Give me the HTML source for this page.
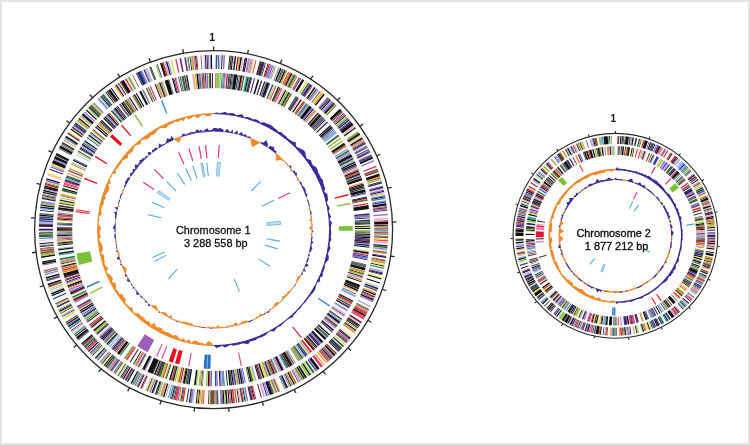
<!DOCTYPE html><html><head><meta charset="utf-8"><style>html,body{margin:0;padding:0;background:#fff}svg{display:block}text{font-family:"Liberation Sans",Arial,sans-serif;fill:#111}</style></head><body>
<svg width="750" height="445" viewBox="0 0 750 445">
<rect x="1" y="1" width="748" height="443" fill="#fff" stroke="#e4e4e4" stroke-width="2"/>
<g transform="translate(213.6 229.6) scale(1)">
<circle r="179" fill="none" stroke="#2a2a2a" stroke-width="1.3"/>
<path d="M0 -179L0 -183M33.99 -175.74L34.75 -179.67M66.75 -166.09L68.24 -169.8M97.07 -150.39L99.24 -153.75M123.87 -129.22L126.63 -132.11M146.15 -103.35L149.42 -105.66M163.12 -73.71L166.76 -75.36M174.15 -41.39L178.04 -42.32M178.84 -7.57L182.84 -7.74M177.02 26.53L180.98 27.12M168.76 59.66L172.53 61M154.36 90.63L157.81 92.65M134.34 118.29L137.35 120.94M109.43 141.65L111.88 144.82M80.54 159.86L82.34 163.43M48.72 172.24L49.81 176.09M15.13 178.36L15.46 182.35M-19.02 177.99L-19.45 181.96M-52.47 171.14L-53.65 174.96M-84.02 158.06L-85.9 161.59M-112.5 139.23L-115.02 142.34M-136.9 115.33L-139.96 117.9M-156.31 87.23L-159.8 89.18M-170.03 55.96L-173.83 57.21M-177.56 22.65L-181.53 23.16M-178.63 -11.48L-182.62 -11.73M-173.2 -45.19L-177.07 -46.2M-161.47 -77.26L-165.08 -78.99M-143.86 -106.52L-147.07 -108.9M-121.01 -131.9L-123.72 -134.84M-93.76 -152.48L-95.86 -155.89M-63.1 -167.51L-64.51 -171.25M-30.14 -176.44L-30.82 -180.39" stroke="#2a2a2a" stroke-width="1.3" fill="none"/>
<circle r="167.7" fill="none" stroke="#3048b0" stroke-width="14" pathLength="360" stroke-dasharray="0 0.73 0.54 17.91 0.25 30.76 0.47 14.2 0.48 15.32 0.45 52.71 0.21 9.66 0.54 11.03 0.32 6.42 0.4 18.54 0.23 19 0.28 14.35 0.28 0.52 0.29 6.04 0.21 14.36 0.31 6.63 0.31 2.67 0.45 20.07 0.31 4.47 0.28 0.65 0.5 0.75 0.46 27.09 0.21 0.13 0.28 18.38 0.47 13.96 0.48 24.61" transform="rotate(-90)"/>
<circle r="167.7" fill="none" stroke="#111111" stroke-width="14" pathLength="360" stroke-dasharray="0 1.6 0.22 0.86 0.32 2.19 0.29 0.17 0.38 0.13 0.34 0.47 0.5 1.38 0.5 1.43 0.36 4.58 0.3 0.81 0.21 1.04 0.29 4.02 0.5 1.06 0.54 0.84 0.23 0.76 0.48 3.69 0.41 0 0.39 1.53 0.28 2.28 0.41 1.75 0.23 1.24 0.52 1.6 0.27 0.39 0.39 1.19 0.46 0.11 0.24 0.27 0.26 1.51 0.54 0 0.39 0.95 0.23 0.72 0.33 1.41 0.41 0.93 0.3 0 0.45 0 0.33 0.98 0.36 1.84 0.49 0 0.22 0.96 0.55 1.2 0.26 3.51 0.26 1.5 0.4 0 0.23 5.25 0.41 0 0.35 0 0.25 1.66 0.27 2.97 0.37 1.44 0.4 1.93 0.28 0 0.52 5.16 0.32 0 0.26 0 0.33 10.83 0.39 5.18 0.39 1.25 0.42 1 0.42 3.64 0.54 0.49 0.29 0.55 0.54 3.32 0.22 1.07 0.21 0.43 0.35 0 0.22 3.16 0.41 0.6 0.35 3.8 0.31 3.27 0.38 0.68 0.43 2.45 0.21 0 0.47 1.1 0.45 4.65 0.36 0 0.54 1.46 0.3 0.88 0.48 1.05 0.27 0 0.36 0.16 0.5 3.27 0.48 0.8 0.33 0.88 0.51 5.08 0.53 0 0.39 5.03 0.38 0.82 0.32 1.64 0.32 1.72 0.32 1.81 0.47 1.3 0.54 0.49 0.4 4.73 0.25 3.07 0.32 0.36 0.35 7.88 0.34 2.29 0.47 2.34 0.45 0.78 0.45 3.58 0.32 0.64 0.27 2.26 0.46 0.94 0.4 8.28 0.35 0.35 0.28 2.48 0.25 0.63 0.44 1 0.26 0.86 0.21 0.41 0.43 0.79 0.27 1.78 0.49 1.88 0.49 0 0.25 4.05 0.49 3.45 0.23 0.95 0.24 0.47 0.4 0.13 0.21 1.15 0.28 0.71 0.28 2.63 0.4 0.14 0.29 0 0.21 2.7 0.29 0 0.26 1.24 0.25 0.24 0.51 4.32 0.52 0.11 0.41 1.13 0.52 4.07 0.31 3.07 0.43 0.84 0.42 4.2 0.46 1.25 0.29 0.66 0.52 4.46 0.4 0.17 0.53 0.43 0.52 0 0.47 0.58 0.28 1.19 0.43 5.15 0.48 0 0.45 0 0.27 0.5 0.5 0 0.46 0.35 0.38 0 0.32 1.57 0.25 0.12 0.32 0 0.53 0.98 0.35 1.93 0.46 2.43 0.44 0.48 0.32 0.83 0.34 3.65 0.39 0 0.4 1.25 0.42 1.22 0.33 3.72 0.22 0.67 0.42 2.2 0.41 0.13 0.43 0 0.46 0.25 0.36 1.55 0.45 0.62 0.26 0.7 0.34 0 0.41 0 0.39 9.76 0.28 3.11 0.53 0 0.23 1.21 0.5 6.84 0.22 0.39 0.27 1.57 0.31 4.76 0.52 0.46" transform="rotate(-90)"/>
<circle r="167.7" fill="none" stroke="#80b0f0" stroke-width="14" pathLength="360" stroke-dasharray="0 1.98 0.33 45.35 0.31 10.9 0.46 1.21 0.32 35.66 0.38 61.6 0.37 27.8 0.32 18.97 0.53 42.38 0.21 0.43 0.29 26.89 0.5 41.08 0.51 25.88 0.49 5.92 0.28 8.66" transform="rotate(-90)"/>
<circle r="167.7" fill="none" stroke="#8a70d0" stroke-width="14" pathLength="360" stroke-dasharray="0 3.28 0.51 7.65 0.3 0.96 0.34 5.81 0.34 0.36 0.52 0.18 0.27 16.09 0.35 3.65 0.53 1.58 0.38 0 0.28 23.09 0.47 8.41 0.39 0.97 0.45 1.38 0.44 1.35 0.34 4.1 0.49 14.67 0.32 13.87 0.48 15.03 0.25 6.75 0.5 24.33 0.4 6.68 0.5 8.14 0.54 9.41 0.4 4.01 0.39 9.15 0.51 15.39 0.28 3.09 0.43 3.68 0.51 28.47 0.24 1.19 0.4 0.78 0.5 12.53 0.22 0.25 0.37 8.97 0.52 6.68 0.54 6.93 0.5 16.65 0.21 1.12 0.45 4.05 0.3 9.79 0.33 8.45 0.39 17.54 0.5 4.29 0.4 1.49" transform="rotate(-90)"/>
<circle r="167.7" fill="none" stroke="#b0a0e0" stroke-width="14" pathLength="360" stroke-dasharray="0 6.63 0.35 5.22 0.5 9.06 0.53 19.9 0.52 20.09 0.37 14.47 0.37 25.64 0.45 5.06 0.28 6.49 0.45 33.74 0.51 3.25 0.49 40.52 0.44 0.45 0.34 2.34 0.25 17.51 0.39 23.56 0.44 31.39 0.52 10.72 0.43 7.65 0.48 14.4 0.54 12.48 0.42 17 0.44 0.14 0.43 5.89 0.37 16.06" transform="rotate(-90)"/>
<circle r="167.7" fill="none" stroke="#3a1a2a" stroke-width="14" pathLength="360" stroke-dasharray="0 7.9 0.37 7.07 0.39 0.3 0.42 0 0.39 18.32 0.24 34.97 0.35 17.56 0.48 13.19 0.34 19.64 0.5 1.09 0.42 1.18 0.37 8.57 0.38 29.5 0.32 10.42 0.4 13.64 0.33 16.7 0.22 4.26 0.42 0.29 0.51 4.47 0.33 11.01 0.23 4.68 0.38 4.42 0.51 13.44 0.29 19.75 0.35 0 0.46 1.57 0.45 21.34 0.25 7.85 0.46 5.64 0.47 11.93 0.37 37.93" transform="rotate(-90)"/>
<circle r="167.7" fill="none" stroke="#f08a2a" stroke-width="14" pathLength="360" stroke-dasharray="0 8.43 0.42 15.65 0.41 0.65 0.46 12.43 0.39 18.28 0.25 1.95 0.5 4.51 0.24 7.66 0.39 25.07 0.43 13.08 0.48 5.95 0.4 7.86 0.54 13.12 0.37 0.66 0.35 8.74 0.33 1.88 0.38 17.5 0.37 13.52 0.55 0.98 0.36 11.47 0.5 0.68 0.26 45.74 0.34 6.62 0.21 4.37 0.29 44.74 0.31 2.55 0.34 4.91 0.39 6.42 0.34 9.35 0.48 24.86 0.21 1.73 0.51 6.81" transform="rotate(-90)"/>
<circle r="167.7" fill="none" stroke="#f2a0c0" stroke-width="14" pathLength="360" stroke-dasharray="0 9.49 0.44 43.43 0.47 22.37 0.38 9.52 0.41 7.66 0.51 27.72 0.51 39.83 0.21 8.11 0.44 33.32 0.25 5.56 0.29 31.67 0.31 22 0.23 1.15 0.25 21.6 0.28 33.64 0.22 6.86 0.27 14.52 0.22 12.52 0.28 3.03" transform="rotate(-90)"/>
<circle r="167.7" fill="none" stroke="#202060" stroke-width="14" pathLength="360" stroke-dasharray="0 10.28 0.5 6.43 0.29 34.23 0.41 23.59 0.47 18.97 0.46 13.94 0.51 23.23 0.51 26.25 0.28 27.4 0.45 4.83 0.27 18.72 0.34 7.22 0.32 8.47 0.35 2.23 0.28 4.07 0.26 42.32 0.49 1.71 0.43 0.61 0.36 8.6 0.33 16.34 0.29 26.54 0.33 0.12 0.42 0 0.44 1.39 0.36 20.47 0.4 2.46" transform="rotate(-90)"/>
<circle r="167.7" fill="none" stroke="#e04080" stroke-width="14" pathLength="360" stroke-dasharray="0 11.74 0.31 15.88 0.31 0.98 0.39 18.86 0.46 19.56 0.54 14.02 0.35 3.41 0.32 2.79 0.23 3.3 0.49 19.16 0.45 4.64 0.51 1.62 0.44 8.36 0.47 8.39 0.37 0.39 0.46 2.04 0.37 0 0.51 20.97 0.22 2.49 0.48 16.91 0.34 8.47 0.52 11.63 0.32 21.68 0.36 0 0.26 7.33 0.22 28.98 0.26 83.7 0.48 12.22" transform="rotate(-90)"/>
<circle r="167.7" fill="none" stroke="#e8d840" stroke-width="14" pathLength="360" stroke-dasharray="0 13.04 0.38 18.61 0.52 5.41 0.5 5.73 0.27 33.57 0.32 14.67 0.45 0.49 0.22 7.28 0.36 0.46 0.36 3.17 0.4 21.49 0.21 11.32 0.34 19.56 0.44 31.43 0.52 10.05 0.43 11.85 0.31 5.05 0.25 19.67 0.26 0 0.25 10.27 0.47 38.04 0.44 2.97 0.5 13.09 0.27 10.35 0.23 29.44 0.52 13.76" transform="rotate(-90)"/>
<circle r="167.7" fill="none" stroke="#e02828" stroke-width="14" pathLength="360" stroke-dasharray="0 13.93 0.29 4.15 0.47 7.17 0.31 32.3 0.24 11.04 0.45 20.51 0.48 8.87 0.33 18.37 0.43 0.57 0.41 0.44 0.27 9.3 0.27 27.22 0.5 8.34 0.27 6 0.53 0.79 0.26 15.4 0.42 2.18 0.48 13.61 0.31 9.69 0.22 11.31 0.22 56.43 0.47 44.31 0.41 12.96 0.47 10.83 0.35 5.4" transform="rotate(-90)"/>
<circle r="167.7" fill="none" stroke="#90c840" stroke-width="14" pathLength="360" stroke-dasharray="0 20.63 0.37 5.94 0.28 22.36 0.47 5.6 0.46 16.89 0.46 27.09 0.23 23.79 0.36 6.16 0.25 14.34 0.38 0.62 0.36 0 0.31 1.66 0.21 8.36 0.26 18.1 0.33 4.92 0.24 2.95 0.38 29.77 0.29 26.56 0.47 19.33 0.45 6.71 0.31 9.74 0.49 6.69 0.34 22.54 0.46 1.28 0.37 3.28 0.46 16.59 0.39 9.21 0.37 11.52 0.3 7.32" transform="rotate(-90)"/>
<circle r="167.7" fill="none" stroke="#2a6a2a" stroke-width="14" pathLength="360" stroke-dasharray="0 23.06 0.46 3.93 0.49 26.07 0.21 15.38 0.32 25.72 0.47 16.28 0.34 4.33 0.25 12.55 0.5 2.24 0.3 11.76 0.38 4.21 0.29 9.34 0.26 19.91 0.23 11.1 0.32 8.16 0.39 18.12 0.54 9.57 0.53 35.6 0.25 0.7 0.23 2.67 0.34 0 0.55 46.72 0.51 4.53 0.39 39.52" transform="rotate(-90)"/>
<circle r="167.7" fill="none" stroke="#606060" stroke-width="14" pathLength="360" stroke-dasharray="0 23.52 0.32 3.38 0.23 2.17 0.49 5.87 0.48 4.95 0.39 14.31 0.3 4.8 0.36 21.83 0.41 7.56 0.38 0.62 0.49 3.43 0.23 13.7 0.52 14.73 0.27 12.63 0.39 16.98 0.27 20.82 0.34 1.18 0.25 0 0.44 8.47 0.24 5.65 0.4 3.73 0.26 4.38 0.49 4.42 0.22 4.3 0.42 0.95 0.46 4.98 0.35 11.87 0.32 6.67 0.43 14.63 0.5 2.34 0.24 2.36 0.26 16.61 0.5 5.05 0.25 0.72 0.27 17.08 0.28 0.17 0.53 38.46 0.52 16.88 0.28 4.04" transform="rotate(-90)"/>
<circle r="167.7" fill="none" stroke="#a0a040" stroke-width="14" pathLength="360" stroke-dasharray="0 28.24 0.48 60.03 0.43 0.38 0.36 10.86 0.53 51.59 0.48 17.21 0.26 49.04 0.32 3.98 0.24 8.93 0.23 28.03 0.41 18.73 0.37 78.86" transform="rotate(-90)"/>
<circle r="167.7" fill="none" stroke="#30a0a0" stroke-width="14" pathLength="360" stroke-dasharray="0 33.11 0.32 45.93 0.51 10.38 0.44 11.94 0.44 66.12 0.27 24.81 0.47 12.54 0.52 24.89 0.53 2.32 0.33 80.39 0.23 43.49" transform="rotate(-90)"/>
<circle r="167.7" fill="none" stroke="#4a2a7a" stroke-width="14" pathLength="360" stroke-dasharray="0 33.43 0.4 0 0.47 17.15 0.28 8.35 0.45 1.14 0.33 0.49 0.31 0.37 0.41 0.99 0.29 9.31 0.5 7.88 0.39 6.39 0.23 9.13 0.3 5.27 0.31 0.39 0.21 23.4 0.4 21.79 0.24 8.72 0.37 6.89 0.54 2.65 0.45 8.8 0.24 11.04 0.31 18.92 0.3 4.05 0.27 19.98 0.3 15.83 0.25 13.3 0.35 26.35 0.31 14.49 0.21 1.49 0.54 6.36 0.43 15.9 0.25 1.32 0.22 8.59 0.28 7.44 0.52 1.05 0.44 6.91 0.36 2" transform="rotate(-90)"/>
<circle r="167.7" fill="none" stroke="#8a4a22" stroke-width="14" pathLength="360" stroke-dasharray="0 34.3 0.3 12.56 0.5 24.97 0.24 9.36 0.22 9.65 0.26 4.97 0.37 37.39 0.49 1.53 0.31 14.14 0.34 20.33 0.37 7.16 0.25 0 0.52 0 0.43 81.08 0.54 0.15 0.51 64.25 0.41 32.1" transform="rotate(-90)"/>
<circle r="167.7" fill="none" stroke="#c0eca0" stroke-width="14" pathLength="360" stroke-dasharray="0 57.56 0.52 50.73 0.36 88.62 0.25 4.72 0.43 9.28 0.49 10.28 0.43 84.26 0.32 12.85 0.45 8.6 0.48 29.37" transform="rotate(-90)"/>
<circle r="149.05" fill="none" stroke="#e04080" stroke-width="15.3" pathLength="360" stroke-dasharray="0 0.65 0.36 22.28 0.44 1.85 0.51 44.31 0.38 57.47 0.57 27.71 0.4 61.32 0.36 13.6 0.53 12.54 0.44 6.12 0.41 13.63 0.34 8.6 0.57 11.68 0.41 4.33 0.25 3.21 0.25 40.36 0.53 3.78 0.34 19.5" transform="rotate(-90)"/>
<circle r="149.05" fill="none" stroke="#90c840" stroke-width="15.3" pathLength="360" stroke-dasharray="0 1.02 0.51 0 0.61 0.15 0.47 20.01 0.32 4.63 0.35 0 0.49 26.62 0.6 7.46 0.43 26.93 0.42 0.95 0.27 5.71 0.37 8.29 0.61 11.09 0.47 27.93 0.6 8.41 0.25 26.37 0.5 2.29 0.4 0.62 0.35 7.53 0.46 3.31 0.42 1.22 0.4 14.12 0.44 0.3 0.31 8.44 0.28 4.76 0.58 0.24 0.33 4.34 0.25 0.76 0.58 8.23 0.28 21.19 0.4 15.86 0.33 12.65 0.58 4.28 0.35 6.85 0.42 27.59 0.51 4.08 0.27 1.17 0.49 18.86" transform="rotate(-90)"/>
<circle r="149.05" fill="none" stroke="#30a0a0" stroke-width="15.3" pathLength="360" stroke-dasharray="0 2.96 0.4 3.83 0.32 4.5 0.54 0.42 0.46 23.36 0.42 32.15 0.47 82.05 0.59 23.36 0.57 45.81 0.52 12.03 0.23 23.27 0.29 1.87 0.41 2.04 0.26 4.92 0.34 35.49 0.39 55.74" transform="rotate(-90)"/>
<circle r="149.05" fill="none" stroke="#4a2a7a" stroke-width="15.3" pathLength="360" stroke-dasharray="0 3.51 0.24 11.19 0.43 2.25 0.24 14.24 0.52 12.01 0.46 0.17 0.46 0.66 0.54 18.6 0.48 17.96 0.6 1.69 0.56 0.54 0.31 5.61 0.42 0 0.47 0.58 0.58 5.6 0.38 6.09 0.52 9.56 0.34 2.01 0.42 10.27 0.48 2.27 0.35 3.43 0.4 0 0.32 5.9 0.54 9.12 0.25 8.69 0.53 7.24 0.6 10.11 0.44 8.22 0.54 29.73 0.33 5.95 0.54 10.49 0.27 2.88 0.6 25.61 0.31 10.52 0.52 10.3 0.42 3.63 0.38 10.96 0.33 12.53 0.31 4.82 0.48 5.39 0.52 21.32 0.5 7.15 0.41 1.41 0.25 1.2" transform="rotate(-90)"/>
<circle r="149.05" fill="none" stroke="#3048b0" stroke-width="15.3" pathLength="360" stroke-dasharray="0 3.89 0.32 1.67 0.38 15.67 0.57 26.86 0.51 49.99 0.5 0.12 0.25 42.34 0.61 11.34 0.25 13.5 0.39 2.45 0.61 6.76 0.49 4.79 0.36 23.79 0.61 10.38 0.28 26.66 0.42 35.59 0.25 13.97 0.35 8.96 0.32 48.16 0.27 5.4" transform="rotate(-90)"/>
<circle r="149.05" fill="none" stroke="#b0a0e0" stroke-width="15.3" pathLength="360" stroke-dasharray="0 4.21 0.37 32.64 0.48 22.35 0.45 68.31 0.5 29.75 0.48 61.8 0.51 46.95 0.3 29.49 0.31 47.03 0.4 8.66 0.42 4.59" transform="rotate(-90)"/>
<circle r="149.05" fill="none" stroke="#e02828" stroke-width="15.3" pathLength="360" stroke-dasharray="0 4.78 0.58 5.14 0.31 24.45 0.48 22.04 0.24 9.21 0.28 0.95 0.41 9.81 0.32 1.2 0.52 18.58 0.53 17.97 0.52 21.22 0.49 1.02 0.25 0 0.47 39.66 0.36 10.79 0.54 5.51 0.45 10.46 0.36 3.55 0.52 25.38 0.38 2.81 0.58 11.56 0.44 0.8 0.3 30.5 0.31 0.66 0.28 57.57 0.38 14.06" transform="rotate(-90)"/>
<circle r="149.05" fill="none" stroke="#111111" stroke-width="15.3" pathLength="360" stroke-dasharray="0 5.56 0.31 0.5 0.4 0.74 0.6 0 0.61 1.17 0.61 2.06 0.42 0.96 0.3 2.11 0.26 0 0.37 0.88 0.26 1.46 0.3 0.15 0.5 0 0.32 3.43 0.47 0.28 0.27 1.8 0.48 1 0.44 3.6 0.35 0.81 0.47 3.46 0.53 0 0.58 0.57 0.39 2.67 0.57 0 0.54 0.17 0.35 0.14 0.24 3.62 0.53 0.13 0.61 6.96 0.29 0 0.55 4.18 0.48 0 0.52 0.52 0.41 1.01 0.51 0.16 0.57 2.12 0.54 0.71 0.49 0.62 0.41 0.38 0.51 0 0.31 1.28 0.45 0.51 0.47 0.18 0.34 0.2 0.5 0 0.53 1.7 0.31 2.91 0.53 0 0.58 0 0.31 3.14 0.28 1.82 0.37 0.56 0.34 0.37 0.48 1.75 0.45 0.27 0.28 0.16 0.56 3.06 0.35 1.66 0.27 0 0.37 3.9 0.23 1 0.47 0 0.6 1.12 0.34 2.72 0.37 0.99 0.61 0 0.4 0.14 0.55 0.18 0.57 3.84 0.47 7.37 0.37 0.83 0.42 0 0.37 2.97 0.58 1.68 0.54 1.38 0.33 0 0.5 0.74 0.46 0 0.47 1.27 0.32 0.37 0.49 0.18 0.27 0.63 0.5 9.3 0.51 0 0.46 0.77 0.32 1.69 0.44 0 0.38 6.67 0.6 4.2 0.58 2.86 0.6 2.65 0.51 0.17 0.37 0.12 0.55 0.53 0.32 2.31 0.43 3.93 0.42 4.42 0.6 1.58 0.24 0 0.34 1.17 0.36 0 0.46 0.71 0.31 3.61 0.55 0.93 0.32 2.58 0.29 0.79 0.27 0.15 0.53 0.45 0.38 0 0.38 0 0.55 0 0.57 0 0.27 1.24 0.6 0 0.27 3.54 0.32 6.12 0.6 0 0.34 4.69 0.53 1.55 0.38 0.15 0.6 1.92 0.29 1.48 0.56 0.9 0.53 1.98 0.37 0.37 0.23 1.37 0.48 1.32 0.57 0.17 0.46 4.16 0.49 2.09 0.61 1 0.25 1 0.55 1.18 0.33 0.24 0.46 0.9 0.45 0 0.59 0 0.54 2.42 0.38 4.38 0.56 0.81 0.5 1.22 0.47 0.31 0.42 2.23 0.52 1.77 0.44 0.12 0.56 0.98 0.3 1.53 0.48 3.46 0.26 0 0.38 6.71 0.47 0.61 0.44 1.86 0.39 7.37 0.4 4.48 0.24 1.4 0.57 1.18 0.44 2.15 0.43 0.76 0.33 1.09 0.29 0.96 0.47 0.28 0.42 1.64 0.31 0.12 0.42 0.71 0.44 0.18 0.36 1.01 0.56 1.6 0.29 0.98 0.57 0.75 0.27 1.03 0.27 0.26 0.61 4.55 0.26 0.2 0.45 0.36 0.45 0.95 0.34 0 0.48 5.47 0.4 1.31 0.49 1.66 0.59 0 0.29 0 0.56 1.38 0.48 1.89 0.25 2.71 0.47 3.3 0.6 3.92 0.3 0.25 0.32 0.34 0.33 0.21" transform="rotate(-90)"/>
<circle r="149.05" fill="none" stroke="#606060" stroke-width="15.3" pathLength="360" stroke-dasharray="0 6.78 0.42 2.23 0.33 26.47 0.57 13.25 0.36 0.2 0.24 2.06 0.47 12.74 0.36 24.54 0.29 11.77 0.54 0 0.45 10.09 0.33 6.42 0.34 4.09 0.24 23.34 0.51 6.53 0.52 1.83 0.24 7.99 0.37 35.64 0.28 11.55 0.3 5.94 0.28 18.95 0.24 15.26 0.35 44.16 0.48 1.38 0.3 18.14 0.48 2.18 0.44 9.81 0.31 9.84 0.38 3.8 0.49 1.66 0.24 5.71 0.45 4.02" transform="rotate(-90)"/>
<circle r="149.05" fill="none" stroke="#202060" stroke-width="15.3" pathLength="360" stroke-dasharray="0 8.86 0.37 11.61 0.29 52.2 0.51 2.35 0.39 19 0.52 22.79 0.36 39.31 0.48 60.94 0.47 7.7 0.33 28.65 0.32 11.07 0.27 11.76 0.55 20.16 0.49 11.64 0.28 31.43 0.29 14.59" transform="rotate(-90)"/>
<circle r="149.05" fill="none" stroke="#2a6a2a" stroke-width="15.3" pathLength="360" stroke-dasharray="0 10.98 0.49 13.27 0.28 3.99 0.36 2.21 0.52 20.5 0.33 6.56 0.56 18.96 0.39 5.16 0.28 1.97 0.54 3.02 0.26 37.04 0.59 4.56 0.46 11.78 0.47 19.75 0.61 24.07 0.43 9.49 0.54 15.97 0.44 27.3 0.5 14.13 0.6 12.89 0.37 6.85 0.52 4.3 0.6 4.89 0.57 28.67 0.42 5.8 0.47 22.42 0.52 0 0.32 11.06" transform="rotate(-90)"/>
<circle r="149.05" fill="none" stroke="#3a1a2a" stroke-width="15.3" pathLength="360" stroke-dasharray="0 13.43 0.5 4.92 0.48 22.33 0.57 18.85 0.25 16.76 0.48 15.58 0.58 24.75 0.35 25.68 0.25 5.04 0.58 5.54 0.55 5.33 0.47 31.44 0.56 5.42 0.6 10.7 0.43 11.31 0.33 24 0.35 2.92 0.29 26.86 0.56 10.34 0.36 34.7 0.48 9.42 0.27 0.65 0.27 19.22 0.25 5" transform="rotate(-90)"/>
<circle r="149.05" fill="none" stroke="#80b0f0" stroke-width="15.3" pathLength="360" stroke-dasharray="0 19.33 0.24 16.37 0.29 14.63 0.49 0 0.57 6.75 0.61 4.41 0.45 16.58 0.27 33.66 0.59 6.03 0.37 3.96 0.42 15.93 0.54 1.86 0.5 19.32 0.53 72.73 0.34 29.41 0.34 21.27 0.6 12.8 0.5 4.94 0.43 11.65 0.51 18.77 0.24 20.79" transform="rotate(-90)"/>
<circle r="149.05" fill="none" stroke="#e8d840" stroke-width="15.3" pathLength="360" stroke-dasharray="0 22.49 0.29 66.16 0.37 53.19 0.55 17.25 0.61 3.79 0.55 6.02 0.31 21.54 0.61 14.21 0.25 40.93 0.56 7.11 0.36 19.42 0.33 3.06 0.61 71.94 0.49 7" transform="rotate(-90)"/>
<circle r="149.05" fill="none" stroke="#f08a2a" stroke-width="15.3" pathLength="360" stroke-dasharray="0 25.29 0.28 14.83 0.59 31.39 0.49 33.01 0.39 6.87 0.46 10.07 0.28 60.81 0.37 6.24 0.34 7.36 0.37 54.49 0.47 0 0.28 0.44 0.26 2.35 0.53 8.38 0.54 6.12 0.44 8.85 0.61 7.67 0.45 1.31 0.57 15.87 0.56 2.63 0.5 25.71 0.5 14.17 0.38 2.89 0.32 3.27" transform="rotate(-90)"/>
<circle r="149.05" fill="none" stroke="#f2a0c0" stroke-width="15.3" pathLength="360" stroke-dasharray="0 26.6 0.5 5.86 0.44 33.1 0.56 40.84 0.61 13.91 0.31 4.66 0.27 25.31 0.36 55.69 0.41 3.8 0.24 13.34 0.43 3.56 0.33 15.65 0.58 0.25 0.48 2.57 0.24 101.14 0.49 7.49" transform="rotate(-90)"/>
<circle r="149.05" fill="none" stroke="#8a4a22" stroke-width="15.3" pathLength="360" stroke-dasharray="0 29.52 0.48 4.84 0.42 21.88 0.48 10.55 0.3 80.99 0.37 7.63 0.42 3.97 0.41 33 0.57 23.01 0.54 12.26 0.56 32.37 0.31 4.37 0.57 4.4 0.39 0.75 0.42 42.14 0.38 7.37 0.53 29.77 0.44 3.58" transform="rotate(-90)"/>
<circle r="149.05" fill="none" stroke="#8a70d0" stroke-width="15.3" pathLength="360" stroke-dasharray="0 38.8 0.57 0.6 0.26 20.27 0.38 1.45 0.52 13.74 0.3 7.94 0.59 13.54 0.34 15.94 0.25 7.43 0.6 3.31 0.34 9.32 0.55 9.26 0.43 1.61 0.31 5.74 0.41 13.27 0.48 3.66 0.35 3.86 0.35 0.17 0.5 0.98 0.54 26.81 0.38 17.92 0.55 1.88 0.3 8.93 0.24 0.48 0.41 5.22 0.47 7.25 0.5 7.17 0.28 13.75 0.43 3.87 0.49 40.43 0.53 8.97 0.24 6.32 0.33 24.21 0.56 2.12" transform="rotate(-90)"/>
<circle r="149.05" fill="none" stroke="#c0eca0" stroke-width="15.3" pathLength="360" stroke-dasharray="0 45.71 0.46 139.67 0.32 171.72 0.37 1.75" transform="rotate(-90)"/>
<circle r="149.05" fill="none" stroke="#a0a040" stroke-width="15.3" pathLength="360" stroke-dasharray="0 53.95 0.52 50.84 0.59 2.77 0.54 36.55 0.55 11.58 0.46 1.2 0.6 10.64 0.5 12.6 0.38 25.66 0.41 8.28 0.24 10.23 0.24 83.45 0.45 11.71 0.28 1.25 0.54 1.52 0.32 31.17" transform="rotate(-90)"/>
<path d="M-52.71 -128.84A139.2 139.2 0 0 1 -51.36 -129.38L-46.23 -116.46A125.3 125.3 0 0 0 -47.44 -115.97Z" fill="#3a8ad4"/>
<path d="M-79.44 -114.3A139.2 139.2 0 0 1 -78.24 -115.13L-70.43 -103.63A125.3 125.3 0 0 0 -71.51 -102.89Z" fill="#80c040"/>
<path d="M-92.6 -103.93A139.2 139.2 0 0 1 -91.51 -104.9L-82.37 -94.42A125.3 125.3 0 0 0 -83.35 -93.55Z" fill="#e41020"/>
<path d="M-103.61 -92.96A139.2 139.2 0 0 1 -101.31 -95.47L-91.19 -85.93A125.3 125.3 0 0 0 -93.26 -83.68Z" fill="#e41020"/>
<path d="M-118.81 -72.52A139.2 139.2 0 0 1 -118.05 -73.76L-106.26 -66.4A125.3 125.3 0 0 0 -106.95 -65.28Z" fill="#e41020"/>
<path d="M-129.69 -50.56A139.2 139.2 0 0 1 -129.15 -51.92L-116.26 -46.74A125.3 125.3 0 0 0 -116.74 -45.52Z" fill="#e41020"/>
<path d="M-138.1 -17.45A139.2 139.2 0 0 1 -137.94 -18.65L-124.17 -16.79A125.3 125.3 0 0 0 -124.31 -15.7Z" fill="#ec3040"/>
<path d="M-137.86 -19.25A139.2 139.2 0 0 1 -137.69 -20.45L-123.94 -18.41A125.3 125.3 0 0 0 -124.1 -17.33Z" fill="#ec3040"/>
<path d="M-134.64 35.32A139.2 139.2 0 0 1 -137.13 23.93L-123.43 21.54A125.3 125.3 0 0 0 -121.2 31.8Z" fill="#7cc03c"/>
<path d="M-126.46 58.17A139.2 139.2 0 0 1 -127.07 56.84L-114.38 51.16A125.3 125.3 0 0 0 -113.84 52.36Z" fill="#2a6cc0"/>
<path d="M-123.36 64.49A139.2 139.2 0 0 1 -124.03 63.2L-111.64 56.89A125.3 125.3 0 0 0 -111.04 58.05Z" fill="#88cc40"/>
<path d="M-65.99 122.56A139.2 139.2 0 0 1 -76.42 116.34L-68.79 104.73A125.3 125.3 0 0 0 -59.4 110.32Z" fill="#9a60b8"/>
<path d="M-56.51 127.21A139.2 139.2 0 0 1 -57.61 126.72L-51.86 114.06A125.3 125.3 0 0 0 -50.86 114.51Z" fill="#e05070"/>
<path d="M-51.36 129.38A139.2 139.2 0 0 1 -52.48 128.93L-47.24 116.05A125.3 125.3 0 0 0 -46.23 116.46Z" fill="#e05070"/>
<path d="M-40.7 133.12A139.2 139.2 0 0 1 -44.86 131.77L-40.38 118.62A125.3 125.3 0 0 0 -36.63 119.82Z" fill="#e8101e"/>
<path d="M-34.38 134.89A139.2 139.2 0 0 1 -38.6 133.74L-34.75 120.39A125.3 125.3 0 0 0 -30.95 121.42Z" fill="#e8101e"/>
<path d="M-24.29 137.06A139.2 139.2 0 0 1 -25.49 136.85L-22.94 123.18A125.3 125.3 0 0 0 -21.87 123.38Z" fill="#e05070"/>
<path d="M-3.16 139.16A139.2 139.2 0 0 1 -9.95 138.84L-8.96 124.98A125.3 125.3 0 0 0 -2.84 125.27Z" fill="#2a70c4"/>
<path d="M-5.94 125.96L-6.52 138.25" stroke="#8cbcec" stroke-width="0.9"/>
<path d="M134.58 -35.56A139.2 139.2 0 0 1 134.95 -34.15L121.47 -30.74A125.3 125.3 0 0 0 121.14 -32.01Z" fill="#e41020"/>
<path d="M136.6 -26.8A139.2 139.2 0 0 1 136.87 -25.37L123.2 -22.83A125.3 125.3 0 0 0 122.96 -24.12Z" fill="#80c040"/>
<path d="M139.15 -3.64A139.2 139.2 0 0 1 139.19 1.21L125.3 1.09A125.3 125.3 0 0 0 125.26 -3.28Z" fill="#7cc03c"/>
<path d="M116.74 75.81A139.2 139.2 0 0 1 115.94 77.03L104.37 69.34A125.3 125.3 0 0 0 105.09 68.24Z" fill="#3a8ad4"/>
<path d="M88.35 107.56A139.2 139.2 0 0 1 87.22 108.48L78.51 97.65A125.3 125.3 0 0 0 79.53 96.82Z" fill="#e03050"/>
<path d="M28.35 136.28A139.2 139.2 0 0 1 27.16 136.53L24.44 122.89A125.3 125.3 0 0 0 25.52 122.67Z" fill="#e05070"/>
<path d="M0 -116L2.85 -117.02L5.68 -116.55L8.55 -116.77L11.53 -117.95L14.2 -116.06L17.15 -116.56L20.02 -116.28L22.55 -114.29L25.6 -114.94L28.65 -115.29L30.78 -112.15L33.87 -112.56L36.66 -111.89L39.19 -110.45L42.25 -110.47L44.77 -109.02L46.97 -106.89L50.35 -107.41L52.91 -106.07L55.6 -104.98L58.35 -103.97L60.45 -101.82L62.84 -100.2L64.67 -97.75L67.95 -97.46L69.76 -95.04L72.18 -93.48L74.08 -91.25L76.49 -89.67L78.94 -88.1L82.12 -87.27L82.41 -83.42L84.8 -81.76L87.82 -80.63L90.53 -79.15L91.93 -76.51L92.25 -73.04L93.62 -70.49L97.19 -69.54L98.13 -66.65L99.45 -64.07L102.38 -62.48L103.91 -59.99L104.62 -57.05L105.97 -54.48L107.31 -51.91L109.29 -49.62L109.64 -46.59L110.55 -43.83L111.49 -41.09L110.73 -37.77L113.66 -35.71L114.12 -32.82L114.43 -29.92L113.2 -26.67L114.62 -24.07L116.23 -21.47L114.85 -18.33L116.17 -15.65L117.41 -12.92L115.88 -9.9L118.3 -7.21L117.58 -4.3L117.09 -1.43L117.48 1.43L117.7 4.3L117.17 7.14L117.82 10.07L116.14 12.78L116.04 15.64L116.82 18.65L115.58 21.35L114.36 24.02L115.19 27.14L114.93 30.05L112.71 32.42L111.18 34.93L111.23 37.95L110.25 40.63L109.09 43.25L109.22 46.41L106.23 48.23L106.62 51.57L103.47 53.2L102.41 55.85L101.93 58.85L100.73 61.48L98.95 63.75L96.96 65.86L95.13 68.06L93.39 70.31L91.86 72.73L89.55 74.53L87.95 76.89L86.2 79.15L83.9 80.89L82.33 83.34L80.17 85.21L78.86 88.01L75.84 88.9L73.3 90.29L71.14 92.13L69.09 94.12L67.25 96.46L64.37 97.3L62.34 99.4L60.54 101.97L56.92 101.42L54.48 102.87L52.49 105.23L50.01 106.67L47.38 107.82L44.56 108.51L42.24 110.44L39.46 111.21L36.55 111.57L34.52 114.72L31.28 113.95L28.32 113.99L25.62 115L22.79 115.49L19.99 116.12L16.93 115.06L14.26 116.55L11.53 118.01L8.52 116.47L5.73 117.47L2.88 118.33L0 116A116 116 0 0 0 0 -116Z" fill="#3a2a9a"/>
<path d="M0 116L-2.74 112.47L-5.44 111.7L-8.42 115.06L-11.08 113.36L-13.83 113.06L-16.43 111.64L-19.05 110.69L-22.4 113.51L-24.41 109.6L-27.74 111.65L-29.82 108.65L-33.14 110.14L-35.22 107.51L-37.44 105.52L-40.51 105.91L-42.92 104.5L-45.16 102.78L-47.94 102.26L-50.51 101.26L-52.11 98.4L-54.74 97.54L-57.85 97.44L-58.43 93.16L-63.04 95.29L-64.05 91.87L-67.04 91.34L-68.99 89.35L-70.77 87.17L-73.23 85.85L-75.01 83.72L-78.68 83.62L-80.7 81.69L-81.01 78.1L-84.18 77.3L-86.11 75.29L-88.31 73.49L-87.73 69.47L-89.87 67.66L-90.86 65L-94.62 64.27L-95.3 61.4L-97.86 59.72L-97.49 56.28L-98.05 53.47L-101.77 52.33L-100.62 48.67L-102.37 46.48L-104.69 44.49L-107.55 42.64L-105.16 38.76L-107.68 36.73L-109.11 34.28L-108.89 31.32L-109.65 28.67L-109.19 25.72L-112.53 23.63L-110.77 20.46L-110.89 17.7L-111.35 15L-113.48 12.49L-114.38 9.77L-112.66 6.87L-113.78 4.16L-113.83 1.39L-112.39 -1.37L-114.16 -4.17L-115.49 -7.04L-113.91 -9.73L-115.01 -12.65L-111.93 -15.08L-112.04 -17.89L-112.55 -20.79L-111.33 -23.38L-109.8 -25.87L-109.91 -28.73L-107.84 -31.02L-108.49 -34.09L-106.47 -36.32L-105.08 -38.73L-103.98 -41.23L-105.26 -44.73L-102.59 -46.58L-104.15 -50.38L-102.14 -52.51L-101.58 -55.39L-97.43 -56.25L-98.2 -59.93L-95.59 -61.58L-94.23 -64.01L-92.5 -66.18L-91.36 -68.79L-88.94 -70.42L-85.87 -71.46L-85.54 -74.78L-83.27 -76.46L-80.99 -78.09L-79.96 -80.94L-78.74 -83.68L-76.12 -84.96L-72.83 -85.38L-72.58 -89.41L-69.64 -90.19L-66.34 -90.38L-64.22 -92.12L-62.41 -94.33L-59.6 -95.03L-57.6 -97.02L-55.93 -99.65L-53.67 -101.33L-50.72 -101.67L-47.49 -101.31L-45.67 -103.93L-43.27 -105.37L-40.64 -106.27L-38.33 -108.04L-35.22 -107.49L-32.94 -109.48L-29.82 -108.66L-27.9 -112.29L-24.53 -110.13L-22.06 -111.79L-19.58 -113.77L-16.39 -111.36L-13.81 -112.88L-11.25 -115.15L-8.36 -114.17L-5.51 -113.1L-2.78 -114.05L0 -116A116 116 0 0 0 0 116Z" fill="#f08a28"/>
<path d="M0 -116A116 116 0 0 1 0 116" fill="none" stroke="#3a2a9a" stroke-width="1"/>
<path d="M0 116A116 116 0 0 1 0 -116" fill="none" stroke="#f08a28" stroke-width="1"/>
<path d="M0 -98.5L0 -101.59L1.59 -101.5L3.18 -101.31L4.75 -100.77L6.4 -101.79L7.93 -100.77L9.48 -100.27L10.35 -97.95A98.5 98.5 0 0 0 0 -98.5ZM11.23 -97.86L12.66 -100.21L14.28 -100.36L15.54 -98.1L17.02 -97.53L19.08 -100L19.57 -96.54A98.5 98.5 0 0 0 11.23 -97.86ZM20.68 -96.3L21.79 -97.48L23.85 -99.36L24.36 -95.44A98.5 98.5 0 0 0 20.68 -96.3ZM24.78 -95.33L26.41 -96.53L28.33 -97.5L29.16 -94.79L30.92 -95.16L32.57 -95.13L33.38 -92.72L35.2 -93.16L36.88 -93.14L36.96 -91.3A98.5 98.5 0 0 0 24.78 -95.33ZM46.59 -86.78L48.07 -87.44L49.47 -86.74L52.99 -89.6L53.43 -87.2L54.46 -85.82L53.82 -82.5A98.5 98.5 0 0 0 46.59 -86.78ZM54.35 -82.15L57.05 -83.94L58.2 -82.81L60.27 -82.95L60.57 -80.67L61.36 -79.11L62.93 -78.54L62.4 -76.21A98.5 98.5 0 0 0 54.35 -82.15ZM71.47 -67.78L72.04 -67.65L72.93 -66.36L72.99 -66.15A98.5 98.5 0 0 0 71.47 -67.78ZM75.28 -63.52L77.66 -64.25L77.65 -62.21L77.24 -61.13A98.5 98.5 0 0 0 75.28 -63.52ZM79.21 -58.55L81.27 -59.05L81.56 -57.32L83.36 -56.65L83.32 -54.73L82.85 -53.27A98.5 98.5 0 0 0 79.21 -58.55ZM83.57 -52.14L84.63 -51.86L84.2 -51.11A98.5 98.5 0 0 0 83.57 -52.14ZM85.75 -48.47L86.92 -47.79L88.36 -46.78L87.81 -44.74L89.2 -43.7L90.54 -42.61L91.13 -41.15L92.05 -39.83L92.17 -38.18L92.13 -36.48L93.89 -35.48L93.54 -33.68L93.09 -32.19A98.5 98.5 0 0 0 85.75 -48.47ZM93.73 -30.27L94.7 -29.13L94.91 -27.58L95.54 -26.14L95.65 -24.56L96.12 -23.08L96.04 -21.86A98.5 98.5 0 0 0 93.73 -30.27ZM96.7 -18.75L97.12 -18.53L98.08 -17.12L97.54 -15.45L97.36 -14.92A98.5 98.5 0 0 0 96.7 -18.75ZM97.67 -12.74L97.91 -12.37L97.74 -12.18A98.5 98.5 0 0 0 97.67 -12.74ZM98.37 -5.06L98.95 -4.67L98.41 -4.24A98.5 98.5 0 0 0 98.37 -5.06ZM98.5 0.71L100.22 1.57L98.46 2.71A98.5 98.5 0 0 0 98.5 0.71ZM98.25 7.08L98.87 7.78L98.75 9.33L98.25 10.85L99.66 12.59L98.56 14.03L97.49 15.44L97.98 17.1L98.96 18.88L97.86 20.27L97.6 21.82L95.92 22.38A98.5 98.5 0 0 0 98.25 7.08ZM95.44 24.37L95.49 24.52L96.1 26.29L94.63 27.35A98.5 98.5 0 0 0 95.44 24.37ZM94.56 27.58L95.59 29.41L94.56 30.72L94.4 32.32L92.71 33.27A98.5 98.5 0 0 0 94.56 27.58ZM92.66 33.41L95.13 35.95L93.07 36.85L91.06 37.55A98.5 98.5 0 0 0 92.66 33.41ZM90.67 38.49L90.53 39.18L92.61 41.82L89.21 41.76A98.5 98.5 0 0 0 90.67 38.49ZM88.91 42.38L89.32 43.76L88.7 45.19L87.35 45.52A98.5 98.5 0 0 0 88.91 42.38ZM81.9 54.72L81.86 55.63L80.63 56.67L80.49 56.78A98.5 98.5 0 0 0 81.9 54.72ZM76.94 61.51L76.93 61.63L76.84 61.63A98.5 98.5 0 0 0 76.94 61.51ZM68.6 70.69L68.59 70.78L67.51 71.9L67.26 71.96A98.5 98.5 0 0 0 68.6 70.69ZM55.79 81.17L55.96 82.35L54.78 83.39L53.59 82.65A98.5 98.5 0 0 0 55.79 81.17ZM51.53 83.95L51.52 84.07L50.6 85.56L49.72 85.03A98.5 98.5 0 0 0 51.53 83.95ZM40.28 89.89L39.23 90.66L37.79 91.24L36.67 92.61L35.03 92.7L34.54 92.25A98.5 98.5 0 0 0 40.28 89.89ZM12.42 97.71L12.36 97.81L11.9 97.78A98.5 98.5 0 0 0 12.42 97.71ZM-1.41 98.49L-1.55 98.68L-3.1 98.58L-3.21 98.45A98.5 98.5 0 0 0 -1.41 98.49ZM-8.63 98.12L-9.3 98.42L-10.86 98.37L-11.63 97.81A98.5 98.5 0 0 0 -8.63 98.12ZM-18.29 96.79L-18.47 96.85L-18.68 96.71A98.5 98.5 0 0 0 -18.29 96.79ZM-35.57 91.85L-36.85 93.07L-37 91.29A98.5 98.5 0 0 0 -35.57 91.85ZM-38.89 90.5L-39.23 90.67L-39.5 90.23A98.5 98.5 0 0 0 -38.89 90.5ZM-41.38 89.38L-42.16 89.59L-42.12 89.04A98.5 98.5 0 0 0 -41.38 89.38ZM-53.21 82.89L-54.74 83.34L-55.16 81.61A98.5 98.5 0 0 0 -53.21 82.89ZM-62.96 75.75L-65.72 76.95L-65.08 73.94A98.5 98.5 0 0 0 -62.96 75.75ZM-65.75 73.34L-66.37 72.94L-68.43 72.87L-68.6 70.79L-68.63 70.66A98.5 98.5 0 0 0 -65.75 73.34ZM-70.47 68.82L-70.96 68.77L-72.31 67.9L-73.48 66.86L-73.35 65.74A98.5 98.5 0 0 0 -70.47 68.82ZM-74.2 64.79L-76.51 65.35L-77.47 64.09L-76.95 61.65L-78.18 60.65L-78.37 59.67A98.5 98.5 0 0 0 -74.2 64.79ZM-78.91 58.96L-81.25 59.03L-80.39 56.92A98.5 98.5 0 0 0 -78.91 58.96ZM-80.87 56.23L-82.43 56.02L-82.23 54.23A98.5 98.5 0 0 0 -80.87 56.23ZM-83.33 52.52L-85.18 52.2L-86.67 51.26L-86.11 49.12L-86.19 47.68A98.5 98.5 0 0 0 -83.33 52.52ZM-86.37 47.36L-88.54 46.88L-88.37 45.03L-88.04 44.18A98.5 98.5 0 0 0 -86.37 47.36ZM-91.76 35.82L-93.62 35.38L-92.62 33.51A98.5 98.5 0 0 0 -91.76 35.82ZM-92.81 33L-93.67 32.07L-93.31 31.55A98.5 98.5 0 0 0 -92.81 33ZM-93.86 29.89L-96.66 29.74L-96.59 28.06L-94.87 26.49A98.5 98.5 0 0 0 -93.86 29.89ZM-95.95 22.29L-97.86 21.87L-96.42 20.12A98.5 98.5 0 0 0 -95.95 22.29ZM-96.57 19.38L-97.05 18.51L-97.08 16.94L-97.54 15.45L-97.34 15.06A98.5 98.5 0 0 0 -96.57 19.38ZM-97.65 12.89L-98.21 12.41L-97.78 11.91A98.5 98.5 0 0 0 -97.65 12.89ZM-98.02 9.68L-98.51 9.31L-99.13 7.8L-99.47 6.26L-98.75 4.66L-98.42 3.94A98.5 98.5 0 0 0 -98.02 9.68ZM-98.47 2.59L-99.36 1.56L-98.61 0L-101.06 -1.59L-100.07 -3.14L-98.93 -4.67L-98.4 -6.19L-98.28 -6.64A98.5 98.5 0 0 0 -98.47 2.59ZM-97.93 -10.54L-98.02 -10.82L-98.56 -12.45L-98.55 -14.03L-98.33 -15.57L-99.82 -17.42L-96.8 -18.2A98.5 98.5 0 0 0 -97.93 -10.54ZM-96.54 -19.56L-96.67 -20.02L-99.56 -22.25L-95.91 -22.43A98.5 98.5 0 0 0 -96.54 -19.56ZM-95.15 -25.47L-95.29 -26.07L-94.84 -27.55L-94.7 -29.13L-93.79 -30.11A98.5 98.5 0 0 0 -95.15 -25.47ZM-93.57 -30.76L-93.75 -32.1L-92.93 -33.46L-93.27 -35.24L-91.93 -35.37A98.5 98.5 0 0 0 -93.57 -30.76ZM-90.68 -38.46L-90.89 -39.33L-90.11 -39.79A98.5 98.5 0 0 0 -90.68 -38.46ZM-88.97 -42.27L-89.9 -44.04L-87.93 -44.8L-88.67 -46.95L-88.12 -48.45L-86.97 -49.61L-86.46 -51.13L-85.08 -52.14L-83.28 -52.59A98.5 98.5 0 0 0 -88.97 -42.27ZM-83.06 -52.94L-83.57 -54.9L-83.21 -56.55L-81.37 -57.19L-80.88 -58.77L-80.77 -60.64L-78.25 -60.7L-78.7 -63.05L-78.81 -65.2L-75.54 -64.52L-75.13 -66.23L-73.79 -67.14L-74.18 -69.66L-71.99 -69.77L-71.36 -71.36L-68.89 -71.09L-68.31 -72.74L-67.16 -73.8L-65.6 -73.48A98.5 98.5 0 0 0 -83.06 -52.94ZM-64.89 -74.11L-65.94 -77.21L-64.32 -77.75L-61.87 -76.64A98.5 98.5 0 0 0 -64.89 -74.11ZM-61.29 -77.11L-61.77 -79.63L-59.9 -79.78L-59.08 -81.32L-57.77 -82.2L-55.49 -81.38A98.5 98.5 0 0 0 -61.29 -77.11ZM-55.19 -81.59L-54.84 -83.48L-54.64 -86.11L-52.02 -84.88L-50.43 -85.27L-48.9 -85.74L-47.65 -86.67L-47.17 -89.08L-46.51 -91.28L-44.41 -90.65L-42.89 -91.14L-42.43 -93.97L-39.4 -90.28A98.5 98.5 0 0 0 -55.19 -81.59ZM-32.15 -93.1L-32.01 -93.5L-31.07 -95.61L-29.53 -95.99L-27.49 -94.64L-26.33 -96.25L-24.7 -96.21L-23.46 -97.72L-21.76 -97.36L-20.23 -97.69L-18.63 -97.66L-17.38 -99.57L-15.87 -100.21L-14 -98.34L-12.63 -99.98L-10.85 -98.24L-9.39 -99.37L-7.89 -100.3L-6.37 -101.32L-4.67 -99.12L-3.13 -99.53L-1.57 -99.87L0 -101.59L0 -98.5A98.5 98.5 0 0 0 -32.15 -93.1Z" fill="#3a2a9a"/>
<path d="M10.35 -97.95L10.7 -96.96L11.23 -97.86A98.5 98.5 0 0 0 10.35 -97.95ZM19.57 -96.54L19.73 -95.26L20.68 -96.3A98.5 98.5 0 0 0 19.57 -96.54ZM24.36 -95.44L24.41 -95.05L24.78 -95.33A98.5 98.5 0 0 0 24.36 -95.44ZM36.96 -91.3L37.02 -89.39L37.53 -86.73L37.96 -84.08L38.75 -82.34L41.02 -83.74L43.36 -85.09L45.74 -86.39L46.59 -86.78A98.5 98.5 0 0 0 36.96 -91.3ZM53.82 -82.5L53.65 -81.67L54.35 -82.15A98.5 98.5 0 0 0 53.82 -82.5ZM62.4 -76.21L62.14 -75.12L62.32 -72.97L62.09 -70.42L62.72 -68.93L65.22 -69.45L67.74 -69.91L68.62 -68.62L70.22 -68.05L71.47 -67.78A98.5 98.5 0 0 0 62.4 -76.21ZM72.99 -66.15L73.38 -64.7L73.83 -63.06L75.28 -63.52A98.5 98.5 0 0 0 72.99 -66.15ZM77.24 -61.13L76.53 -59.36L77.35 -58.08L79.21 -58.55A98.5 98.5 0 0 0 77.24 -61.13ZM82.85 -53.27L82.56 -52.39L83.57 -52.14A98.5 98.5 0 0 0 82.85 -53.27ZM84.2 -51.11L83.03 -49.1L85.36 -48.69L85.75 -48.47A98.5 98.5 0 0 0 84.2 -51.11ZM93.09 -32.19L92.98 -31.83L93.61 -30.42L93.73 -30.27A98.5 98.5 0 0 0 93.09 -32.19ZM96.04 -21.86L96.01 -21.46L94.93 -19.66L96.7 -18.75A98.5 98.5 0 0 0 96.04 -21.86ZM97.36 -14.92L96.98 -13.8L97.67 -12.74A98.5 98.5 0 0 0 97.36 -14.92ZM97.74 -12.18L96.39 -10.64L95.42 -9.02L97.9 -7.7L96.83 -6.09L98.37 -5.06A98.5 98.5 0 0 0 97.74 -12.18ZM98.41 -4.24L96.85 -3.04L95.08 -1.49L97.04 0L98.5 0.71A98.5 98.5 0 0 0 98.41 -4.24ZM98.46 2.71L97.89 3.08L96.69 4.56L97.39 6.13L98.25 7.08A98.5 98.5 0 0 0 98.46 2.71ZM95.92 22.38L94.78 22.76L95.44 24.37A98.5 98.5 0 0 0 95.92 22.38ZM94.63 27.35L94.48 27.45L94.56 27.58A98.5 98.5 0 0 0 94.63 27.35ZM92.71 33.27L92.59 33.33L92.66 33.41A98.5 98.5 0 0 0 92.71 33.27ZM91.06 37.55L90.83 37.62L90.67 38.49A98.5 98.5 0 0 0 91.06 37.55ZM89.21 41.76L88.72 41.75L88.91 42.38A98.5 98.5 0 0 0 89.21 41.76ZM87.35 45.52L86.39 45.74L84.89 46.67L83.61 47.69L83.06 49.12L82.92 50.81L82.74 52.51L81.93 53.82L81.9 54.72A98.5 98.5 0 0 0 87.35 45.52ZM80.49 56.78L79.36 57.66L78.27 58.77L77.03 59.75L76.94 61.51A98.5 98.5 0 0 0 80.49 56.78ZM76.84 61.63L74.33 61.49L73.73 62.97L73.31 64.63L70.99 64.59L70.88 66.56L68.49 66.38L68.6 68.6L68.6 70.69A98.5 98.5 0 0 0 76.84 61.63ZM67.26 71.96L65.82 72.34L64.08 72.69L62.35 73L61.13 73.89L60.52 75.55L59.88 77.2L58.49 77.9L57.78 79.53L55.43 78.87L55.79 81.17A98.5 98.5 0 0 0 67.26 71.96ZM53.59 82.65L51.65 81.39L51.53 83.95A98.5 98.5 0 0 0 53.59 82.65ZM49.72 85.03L47.81 83.83L46.43 84.46L45.5 85.93L44.34 87.03L42.52 86.8L41.85 88.93L40.51 89.71L40.28 89.89A98.5 98.5 0 0 0 49.72 85.03ZM34.54 92.25L32.53 90.34L31.39 91.67L29.71 91.45L28.25 91.82L27.12 93.35L25.67 93.84L24.34 94.78L22.26 92.74L20.9 93.51L19.73 95.29L18.21 95.44L16.69 95.65L15.25 96.28L13.63 95.77L12.42 97.71A98.5 98.5 0 0 0 34.54 92.25ZM11.9 97.78L10.78 97.69L9.21 97.42L7.63 96.95L6.15 97.75L4.47 94.87L3.05 97.09L1.55 98.41L0 96.62L-1.41 98.49A98.5 98.5 0 0 0 11.9 97.78ZM-3.21 98.45L-4.56 96.69L-6.16 97.92L-7.69 97.69L-8.63 98.12A98.5 98.5 0 0 0 -3.21 98.45ZM-11.63 97.81L-12.29 97.32L-13.67 96.05L-15.29 96.56L-16.81 96.29L-18.29 96.79A98.5 98.5 0 0 0 -11.63 97.81ZM-18.68 96.71L-19.86 95.92L-21.08 94.31L-22.36 93.14L-24.09 93.84L-25.43 92.96L-26.75 92.08L-28.54 92.76L-29.85 91.86L-31.52 92.06L-33.14 92.05L-34.2 90.5L-35.57 91.85A98.5 98.5 0 0 0 -18.68 96.71ZM-37 91.29L-37.12 89.61L-38.89 90.5A98.5 98.5 0 0 0 -37 91.29ZM-39.5 90.23L-40.21 89.06L-41.38 89.38A98.5 98.5 0 0 0 -39.5 90.23ZM-42.12 89.04L-41.77 85.26L-44.04 86.43L-45.67 86.26L-46.59 84.74L-47.46 83.21L-48.92 82.72L-50.68 82.71L-52.46 82.66L-53.21 82.89A98.5 98.5 0 0 0 -42.12 89.04ZM-55.16 81.61L-55.23 81.27L-55.9 79.54L-56.53 77.8L-57.11 76.06L-58.8 75.8L-60.64 75.69L-62.49 75.54L-62.96 75.75A98.5 98.5 0 0 0 -55.16 81.61ZM-65.08 73.94L-65.05 73.78L-65.75 73.34A98.5 98.5 0 0 0 -65.08 73.94ZM-68.63 70.66L-68.98 68.98L-70.47 68.82A98.5 98.5 0 0 0 -68.63 70.66ZM-73.35 65.74L-73.19 64.53L-74.2 64.79A98.5 98.5 0 0 0 -73.35 65.74ZM-78.37 59.67L-78.5 58.94L-78.91 58.96A98.5 98.5 0 0 0 -78.37 59.67ZM-80.39 56.92L-80.14 56.32L-80.87 56.23A98.5 98.5 0 0 0 -80.39 56.92ZM-82.23 54.23L-82.2 53.99L-82.87 52.59L-83.33 52.52A98.5 98.5 0 0 0 -82.23 54.23ZM-86.19 47.68L-86.2 47.39L-86.37 47.36A98.5 98.5 0 0 0 -86.19 47.68ZM-88.04 44.18L-87.51 42.87L-87.23 41.05L-86.9 39.24L-87.83 38.01L-89.39 37.02L-90.93 36L-91.76 35.82A98.5 98.5 0 0 0 -88.04 44.18ZM-92.62 33.51L-92.51 33.31L-92.81 33A98.5 98.5 0 0 0 -92.62 33.51ZM-93.31 31.55L-92.18 29.95L-93.86 29.89A98.5 98.5 0 0 0 -93.31 31.55ZM-94.87 26.49L-94.01 25.72L-94.04 24.14L-94.25 22.63L-95.95 22.29A98.5 98.5 0 0 0 -94.87 26.49ZM-96.42 20.12L-96.27 19.94L-96.57 19.38A98.5 98.5 0 0 0 -96.42 20.12ZM-97.34 15.06L-96.65 13.76L-97.65 12.89A98.5 98.5 0 0 0 -97.34 15.06ZM-97.78 11.91L-96.68 10.67L-98.02 9.68A98.5 98.5 0 0 0 -97.78 11.91ZM-98.42 3.94L-98.03 3.08L-98.47 2.59A98.5 98.5 0 0 0 -98.42 3.94ZM-98.28 -6.64L-97.98 -7.71L-97.53 -9.22L-97.93 -10.54A98.5 98.5 0 0 0 -98.28 -6.64ZM-96.8 -18.2L-96.18 -18.35L-96.54 -19.56A98.5 98.5 0 0 0 -96.8 -18.2ZM-95.91 -22.43L-93.72 -22.5L-94.89 -24.36L-95.15 -25.47A98.5 98.5 0 0 0 -95.91 -22.43ZM-93.79 -30.11L-93.52 -30.39L-93.57 -30.76A98.5 98.5 0 0 0 -93.79 -30.11ZM-91.93 -35.37L-89.8 -35.55L-90.43 -37.46L-90.68 -38.46A98.5 98.5 0 0 0 -91.93 -35.37ZM-90.11 -39.79L-89.23 -40.29L-88.67 -41.72L-88.97 -42.27A98.5 98.5 0 0 0 -90.11 -39.79ZM-83.28 -52.59L-82.99 -52.66L-83.06 -52.94A98.5 98.5 0 0 0 -83.28 -52.59ZM-65.6 -73.48L-64.59 -73.26L-64.89 -74.11A98.5 98.5 0 0 0 -65.6 -73.48ZM-61.87 -76.64L-61.12 -76.29L-61.29 -77.11A98.5 98.5 0 0 0 -61.87 -76.64ZM-55.49 -81.38L-55.24 -81.29L-55.19 -81.59A98.5 98.5 0 0 0 -55.49 -81.38ZM-39.4 -90.28L-38.66 -89.35L-36.47 -88.04L-34.32 -86.68L-33.52 -88.71L-32.82 -91.17L-32.15 -93.1A98.5 98.5 0 0 0 -39.4 -90.28Z" fill="#f08a28"/>
<path d="M0 -98.5A98.5 98.5 0 0 1 10.04 -97.99M11.58 -97.82A98.5 98.5 0 0 1 19.22 -96.61M20.73 -96.29A98.5 98.5 0 0 1 23.75 -95.59M25.24 -95.21A98.5 98.5 0 0 1 36.98 -91.3M46.77 -86.69A98.5 98.5 0 0 1 53.43 -82.75M54.72 -81.9A98.5 98.5 0 0 1 62.19 -76.39M71.27 -67.99A98.5 98.5 0 0 1 73.37 -65.72M75.4 -63.38A98.5 98.5 0 0 1 77.35 -60.98M79.23 -58.52A98.5 98.5 0 0 1 82.75 -53.43M83.58 -52.12A98.5 98.5 0 0 1 84.39 -50.8M85.94 -48.13A98.5 98.5 0 0 1 92.94 -32.64M93.92 -29.7A98.5 98.5 0 0 1 95.96 -22.24M96.61 -19.22A98.5 98.5 0 0 1 97.41 -14.64M97.62 -13.11A98.5 98.5 0 0 1 97.82 -11.58M98.35 -5.41A98.5 98.5 0 0 1 98.42 -3.87M98.5 0.77A98.5 98.5 0 0 1 98.47 2.32M98.25 6.96A98.5 98.5 0 0 1 95.96 22.24M95.59 23.75A98.5 98.5 0 0 1 94.8 26.74M94.37 28.22A98.5 98.5 0 0 1 92.94 32.64M92.41 34.09A98.5 98.5 0 0 1 91.3 36.98M90.7 38.41A98.5 98.5 0 0 1 89.45 41.24M88.79 42.64A98.5 98.5 0 0 1 87.41 45.41M81.9 54.72A98.5 98.5 0 0 1 80.14 57.27M77.35 60.98A98.5 98.5 0 0 1 76.39 62.19M69.1 70.19A98.5 98.5 0 0 1 66.86 72.33M56 81.03A98.5 98.5 0 0 1 53.43 82.75M52.12 83.58A98.5 98.5 0 0 1 49.47 85.17M39.83 90.09A98.5 98.5 0 0 1 34.09 92.41M13.11 97.62A98.5 98.5 0 0 1 11.58 97.82M-0.77 98.5A98.5 98.5 0 0 1 -3.87 98.42M-8.5 98.13A98.5 98.5 0 0 1 -11.58 97.82M-17.7 96.9A98.5 98.5 0 0 1 -19.22 96.61M-35.54 91.86A98.5 98.5 0 0 1 -36.98 91.3M-38.41 90.7A98.5 98.5 0 0 1 -39.83 90.09M-41.24 89.45A98.5 98.5 0 0 1 -42.64 88.79M-53.43 82.75A98.5 98.5 0 0 1 -54.72 81.9M-63.38 75.4A98.5 98.5 0 0 1 -64.56 74.4M-65.72 73.37A98.5 98.5 0 0 1 -69.1 70.19M-70.19 69.1A98.5 98.5 0 0 1 -73.37 65.72M-74.4 64.56A98.5 98.5 0 0 1 -78.3 59.76M-79.23 58.52A98.5 98.5 0 0 1 -80.14 57.27M-81.03 56A98.5 98.5 0 0 1 -81.9 54.72M-83.58 52.12A98.5 98.5 0 0 1 -85.94 48.13M-86.69 46.77A98.5 98.5 0 0 1 -88.11 44.03M-91.86 35.54A98.5 98.5 0 0 1 -92.41 34.09M-92.94 32.64A98.5 98.5 0 0 1 -93.44 31.17M-93.92 29.7A98.5 98.5 0 0 1 -94.8 26.74M-95.96 22.24A98.5 98.5 0 0 1 -96.29 20.73M-96.61 19.22A98.5 98.5 0 0 1 -97.41 14.64M-97.62 13.11A98.5 98.5 0 0 1 -97.82 11.58M-97.99 10.04A98.5 98.5 0 0 1 -98.42 3.87M-98.47 2.32A98.5 98.5 0 0 1 -98.25 -6.96M-97.99 -10.04A98.5 98.5 0 0 1 -96.9 -17.7M-96.61 -19.22A98.5 98.5 0 0 1 -95.96 -22.24M-95.21 -25.24A98.5 98.5 0 0 1 -93.92 -29.7M-93.44 -31.17A98.5 98.5 0 0 1 -91.86 -35.54M-90.7 -38.41A98.5 98.5 0 0 1 -90.09 -39.83M-88.79 -42.64A98.5 98.5 0 0 1 -83.58 -52.12M-82.75 -53.43A98.5 98.5 0 0 1 -65.72 -73.37M-64.56 -74.4A98.5 98.5 0 0 1 -62.19 -76.39M-60.98 -77.35A98.5 98.5 0 0 1 -56 -81.03M-54.72 -81.9A98.5 98.5 0 0 1 -39.83 -90.09M-32.64 -92.94A98.5 98.5 0 0 1 -0.77 -98.5" fill="none" stroke="#3a2a9a" stroke-width="0.9"/>
<path d="M10.04 -97.99A98.5 98.5 0 0 1 11.58 -97.82M19.22 -96.61A98.5 98.5 0 0 1 20.73 -96.29M23.75 -95.59A98.5 98.5 0 0 1 25.24 -95.21M36.98 -91.3A98.5 98.5 0 0 1 46.77 -86.69M53.43 -82.75A98.5 98.5 0 0 1 54.72 -81.9M62.19 -76.39A98.5 98.5 0 0 1 71.27 -67.99M73.37 -65.72A98.5 98.5 0 0 1 75.4 -63.38M77.35 -60.98A98.5 98.5 0 0 1 79.23 -58.52M82.75 -53.43A98.5 98.5 0 0 1 83.58 -52.12M84.39 -50.8A98.5 98.5 0 0 1 85.94 -48.13M92.94 -32.64A98.5 98.5 0 0 1 93.92 -29.7M95.96 -22.24A98.5 98.5 0 0 1 96.61 -19.22M97.41 -14.64A98.5 98.5 0 0 1 97.62 -13.11M97.82 -11.58A98.5 98.5 0 0 1 98.35 -5.41M98.42 -3.87A98.5 98.5 0 0 1 98.5 0.77M98.47 2.32A98.5 98.5 0 0 1 98.25 6.96M95.96 22.24A98.5 98.5 0 0 1 95.59 23.75M94.8 26.74A98.5 98.5 0 0 1 94.37 28.22M92.94 32.64A98.5 98.5 0 0 1 92.41 34.09M91.3 36.98A98.5 98.5 0 0 1 90.7 38.41M89.45 41.24A98.5 98.5 0 0 1 88.79 42.64M87.41 45.41A98.5 98.5 0 0 1 81.9 54.72M80.14 57.27A98.5 98.5 0 0 1 77.35 60.98M76.39 62.19A98.5 98.5 0 0 1 69.1 70.19M66.86 72.33A98.5 98.5 0 0 1 56 81.03M53.43 82.75A98.5 98.5 0 0 1 52.12 83.58M49.47 85.17A98.5 98.5 0 0 1 39.83 90.09M34.09 92.41A98.5 98.5 0 0 1 13.11 97.62M11.58 97.82A98.5 98.5 0 0 1 -0.77 98.5M-3.87 98.42A98.5 98.5 0 0 1 -8.5 98.13M-11.58 97.82A98.5 98.5 0 0 1 -17.7 96.9M-19.22 96.61A98.5 98.5 0 0 1 -35.54 91.86M-36.98 91.3A98.5 98.5 0 0 1 -38.41 90.7M-39.83 90.09A98.5 98.5 0 0 1 -41.24 89.45M-42.64 88.79A98.5 98.5 0 0 1 -53.43 82.75M-54.72 81.9A98.5 98.5 0 0 1 -63.38 75.4M-64.56 74.4A98.5 98.5 0 0 1 -65.72 73.37M-69.1 70.19A98.5 98.5 0 0 1 -70.19 69.1M-73.37 65.72A98.5 98.5 0 0 1 -74.4 64.56M-78.3 59.76A98.5 98.5 0 0 1 -79.23 58.52M-80.14 57.27A98.5 98.5 0 0 1 -81.03 56M-81.9 54.72A98.5 98.5 0 0 1 -83.58 52.12M-85.94 48.13A98.5 98.5 0 0 1 -86.69 46.77M-88.11 44.03A98.5 98.5 0 0 1 -91.86 35.54M-92.41 34.09A98.5 98.5 0 0 1 -92.94 32.64M-93.44 31.17A98.5 98.5 0 0 1 -93.92 29.7M-94.8 26.74A98.5 98.5 0 0 1 -95.96 22.24M-96.29 20.73A98.5 98.5 0 0 1 -96.61 19.22M-97.41 14.64A98.5 98.5 0 0 1 -97.62 13.11M-97.82 11.58A98.5 98.5 0 0 1 -97.99 10.04M-98.42 3.87A98.5 98.5 0 0 1 -98.47 2.32M-98.25 -6.96A98.5 98.5 0 0 1 -97.99 -10.04M-96.9 -17.7A98.5 98.5 0 0 1 -96.61 -19.22M-95.96 -22.24A98.5 98.5 0 0 1 -95.21 -25.24M-93.92 -29.7A98.5 98.5 0 0 1 -93.44 -31.17M-91.86 -35.54A98.5 98.5 0 0 1 -90.7 -38.41M-90.09 -39.83A98.5 98.5 0 0 1 -88.79 -42.64M-83.58 -52.12A98.5 98.5 0 0 1 -82.75 -53.43M-65.72 -73.37A98.5 98.5 0 0 1 -64.56 -74.4M-62.19 -76.39A98.5 98.5 0 0 1 -60.98 -77.35M-56 -81.03A98.5 98.5 0 0 1 -54.72 -81.9M-39.83 -90.09A98.5 98.5 0 0 1 -32.64 -92.94" fill="none" stroke="#f08a28" stroke-width="0.9"/>
<path d="M-29.62 -65.3L-35.03 -77.23" stroke="#e4387a" stroke-width="1.2"/>
<path d="M-20.84 -68.6L-24.65 -81.14" stroke="#e4387a" stroke-width="1.2"/>
<path d="M-12.33 -70.63L-14.58 -83.54" stroke="#e4387a" stroke-width="1.2"/>
<path d="M-6.75 -71.38L-7.98 -84.42" stroke="#e4387a" stroke-width="1.2"/>
<path d="M-50.26 -51.14L-59.44 -60.48" stroke="#e4387a" stroke-width="1.2"/>
<path d="M-59.51 -39.99L-70.39 -47.3" stroke="#e4387a" stroke-width="1.2"/>
<path d="M4.75 -71.54L5.62 -84.61" stroke="#e4387a" stroke-width="1.2"/>
<path d="M64.61 -31.09L76.41 -36.77" stroke="#e4387a" stroke-width="1.2"/>
<path d="M-28.93 -45.24L-36.21 -56.61" stroke="#58aae2" stroke-width="1.1"/>
<path d="M-22.18 -48.9L-27.76 -61.2" stroke="#58aae2" stroke-width="1.1"/>
<path d="M-16.59 -51.07L-20.77 -63.91" stroke="#58aae2" stroke-width="1.1"/>
<path d="M-12.71 -65.99A67.2 67.2 0 0 1 -10.86 -66.32L-8.68 -52.99A53.7 53.7 0 0 0 -10.15 -52.73Z" fill="#c4e2f6" stroke="#62ace2" stroke-width="0.8"/>
<path d="M-5.33 -53.43L-6.67 -66.87" stroke="#58aae2" stroke-width="1.1"/>
<path d="M-37.5 -38.43L-46.93 -48.09" stroke="#58aae2" stroke-width="1.1"/>
<path d="M-56.23 -36.8A67.2 67.2 0 0 1 -54.78 -38.93L-43.77 -31.11A53.7 53.7 0 0 0 -44.93 -29.4Z" fill="#c4e2f6" stroke="#62ace2" stroke-width="0.8"/>
<path d="M-49.06 -21.84L-61.39 -27.33" stroke="#58aae2" stroke-width="1.1"/>
<path d="M-52.39 -11.81L-65.56 -14.77" stroke="#58aae2" stroke-width="1.1"/>
<path d="M3.75 -67.1A67.2 67.2 0 0 1 6.79 -66.86L5.43 -53.43A53.7 53.7 0 0 0 3 -53.62Z" fill="#c4e2f6" stroke="#62ace2" stroke-width="0.8"/>
<path d="M37.5 -38.43L46.93 -48.09" stroke="#58aae2" stroke-width="1.1"/>
<path d="M48.35 -23.37L60.5 -29.25" stroke="#58aae2" stroke-width="1.1"/>
<path d="M66.67 -8.42A67.2 67.2 0 0 1 67 -5.16L53.54 -4.12A53.7 53.7 0 0 0 53.28 -6.73Z" fill="#c4e2f6" stroke="#62ace2" stroke-width="0.8"/>
<path d="M-48.83 22.35L-61.1 27.97" stroke="#58aae2" stroke-width="1.1"/>
<path d="M-47.24 25.54L-59.11 31.96" stroke="#58aae2" stroke-width="1.1"/>
<path d="M-36.28 39.59L-45.4 49.55" stroke="#58aae2" stroke-width="1.1"/>
<path d="M52.9 9.23L66.2 11.55" stroke="#58aae2" stroke-width="1.1"/>
<path d="M51.41 15.52L64.33 19.42" stroke="#58aae2" stroke-width="1.1"/>
<path d="M45.04 29.25L56.36 36.6" stroke="#58aae2" stroke-width="1.1"/>
<path d="M20.72 49.54L25.93 61.99" stroke="#58aae2" stroke-width="1.1"/>
</g>
<g transform="translate(615.4 235.8) scale(0.572)">
<circle r="179" fill="none" stroke="#2a2a2a" stroke-width="1.92"/>
<path d="M0 -179L0 -183.37M58.8 -169.07L60.24 -173.19M111.07 -140.37L113.79 -143.8M151.02 -96.09L154.71 -98.44M174.21 -41.15L178.46 -42.15M178.06 18.36L182.4 18.81M162.14 75.83L166.1 77.68M128.24 124.89L131.37 127.94M80.1 160.08L82.05 163.99M23.07 177.51L23.63 181.84M-36.52 175.23L-37.42 179.51M-92.06 153.51L-94.31 157.26M-137.38 114.75L-140.73 117.55M-167.45 63.25L-171.54 64.8M-178.94 4.74L-183.31 4.85M-170.56 -54.3L-174.73 -55.63M-143.26 -107.32L-146.76 -109.94M-100.06 -148.42L-102.5 -152.05M-45.75 -173.06L-46.86 -177.28" stroke="#2a2a2a" stroke-width="1.92" fill="none"/>
<circle r="167.7" fill="none" stroke="#4a2a7a" stroke-width="14" pathLength="360" stroke-dasharray="0 1.23 0.65 1.83 0.9 14.93 0.39 0.4 0.88 0.71 0.94 2.17 0.92 17.51 0.89 31.34 0.94 13.85 0.38 22.54 0.78 6.83 0.86 34.46 0.45 5.49 0.4 12.43 0.47 3.42 0.67 12.33 0.39 6.2 0.71 5.85 0.92 11.5 0.62 11.4 0.76 7.24 0.87 4.1 0.74 31.53 0.75 3.17 0.36 1.48 0.9 6.59 0.78 3.09 0.4 14.88 0.78 7.58 0.38 44.04" transform="rotate(-90)"/>
<circle r="167.7" fill="none" stroke="#111111" stroke-width="14" pathLength="360" stroke-dasharray="0 1.88 0.46 0.5 0.59 2.59 0.42 0 0.49 0 0.92 2 0.87 1.04 0.82 4.68 0.93 0 0.81 4.06 0.51 2.38 0.43 0 0.57 7.42 0.56 3.54 0.4 14.46 0.61 1.43 0.63 5.59 0.63 4.49 0.46 0.27 0.49 0 0.76 3.3 0.49 0 0.52 0.7 0.53 2.39 0.59 1.15 0.73 1.78 0.36 0.91 0.47 2.02 0.68 4.68 0.47 3.54 0.81 2.41 0.79 1.4 0.54 0.46 0.56 0 0.44 0 0.38 6.28 0.4 10.73 0.4 2.76 0.36 9.82 0.43 3.82 0.51 2.73 0.6 3.01 0.82 0 0.94 0.77 0.48 1.08 0.76 5.03 0.8 1.5 0.49 1.31 0.5 4.92 0.74 3.2 0.55 3.02 0.55 0.9 0.43 8.42 0.73 3.64 0.39 1.17 0.38 1.1 0.62 0.68 0.95 0 0.79 0.31 0.36 3.7 0.79 9.77 0.9 0.89 0.63 0.25 0.9 0 0.76 0.36 0.41 0 0.91 4.47 0.54 2.76 0.45 0.3 0.48 0.49 0.92 3.7 0.8 5.34 0.93 0 0.93 0.92 0.9 4.02 0.95 0.3 0.85 2.68 0.74 2.66 0.44 1.43 0.61 4.67 0.81 5.44 0.83 2.52 0.88 0.71 0.92 1.98 0.83 0 0.86 0 0.4 0.3 0.58 0 0.75 13.57 0.94 3.36 0.71 4.55 0.78 14.06 0.64 3.98 0.56 7.33 0.54 0.62 0.57 4.98 0.87 2.95 0.4 1.7 0.51 9.46 0.77 5.39 0.66 0 0.63 0 0.7 0 0.51 0.85 0.41 3.63" transform="rotate(-90)"/>
<circle r="167.7" fill="none" stroke="#e8d840" stroke-width="14" pathLength="360" stroke-dasharray="0 2.34 0.5 157.11 0.77 22.09 0.37 51.19 0.92 18.35 0.87 3.16 0.62 40.53 0.46 13.06 0.69 26.21 0.64 20.11" transform="rotate(-90)"/>
<circle r="167.7" fill="none" stroke="#2a6a2a" stroke-width="14" pathLength="360" stroke-dasharray="0 4.61 0.55 9.75 0.45 5.85 0.71 26.55 0.7 11.34 0.89 2.66 0.59 70.05 0.93 14.95 0.91 28.39 0.58 12.24 0.66 8.2 0.8 1.2 0.54 20.59 0.58 6.08 0.61 4.25 0.74 44.79 0.77 7.15 0.6 38.87 0.74 2.72 0.41 27.01" transform="rotate(-90)"/>
<circle r="167.7" fill="none" stroke="#606060" stroke-width="14" pathLength="360" stroke-dasharray="0 5.42 0.6 2.1 0.92 45.08 0.77 31.15 0.88 27.8 0.41 1.12 0.88 0.99 0.84 8.71 0.64 24.67 0.37 57.22 0.36 10.32 0.49 17.53 0.93 44 0.73 30.21 0.43 5.99 0.62 16.16 0.9 20.76" transform="rotate(-90)"/>
<circle r="167.7" fill="none" stroke="#b0a0e0" stroke-width="14" pathLength="360" stroke-dasharray="0 9.05 0.8 29.3 0.48 17.1 0.86 62.04 0.54 8.86 0.48 6.41 0.7 34.49 0.9 0.43 0.83 8.32 0.73 3.52 0.48 13.59 0.44 57.93 0.61 63.98 0.75 6.23 0.7 14.08 0.91 14.45" transform="rotate(-90)"/>
<circle r="167.7" fill="none" stroke="#202060" stroke-width="14" pathLength="360" stroke-dasharray="0 13.71 0.71 78.53 0.65 37.05 0.46 1.03 0.43 14.1 0.49 7.17 0.9 41.85 0.78 17.52 0.84 20.71 0.64 6.88 0.54 2.49 0.91 29.72 0.63 20.54 0.53 60.2" transform="rotate(-90)"/>
<circle r="167.7" fill="none" stroke="#90c840" stroke-width="14" pathLength="360" stroke-dasharray="0 14.42 0.48 32.55 0.8 11.46 0.5 23.41 0.78 11.96 0.71 6.98 0.59 0 0.58 58.59 0.41 1.89 0.9 45.51 0.91 0 0.79 24.24 0.56 69.3 0.72 4.28 0.91 35.6 0.58 0 0.4 9.22" transform="rotate(-90)"/>
<circle r="167.7" fill="none" stroke="#e02828" stroke-width="14" pathLength="360" stroke-dasharray="0 16.33 0.93 16.23 0.69 2.38 0.81 32.6 0.75 21.35 0.71 36.75 0.7 9.08 0.5 36.03 0.95 7.68 0.77 3.66 0.47 86.93 0.84 20.13 0.94 3.17 0.78 54.78 0.36 2.69" transform="rotate(-90)"/>
<circle r="167.7" fill="none" stroke="#8a70d0" stroke-width="14" pathLength="360" stroke-dasharray="0 24.01 0.82 15.09 0.5 1.04 0.37 4.29 0.62 2.43 0.64 1.62 0.51 35.61 0.73 0 0.73 35.19 0.69 18.07 0.44 12.06 0.38 44.78 0.69 6.09 0.41 19.36 0.67 67.11 0.62 13.46 0.7 32.51 0.64 2.94 0.63 13.56" transform="rotate(-90)"/>
<circle r="167.7" fill="none" stroke="#e04080" stroke-width="14" pathLength="360" stroke-dasharray="0 26.95 0.7 0.24 0.52 1.43 0.71 22.1 0.67 41.79 0.37 0.31 0.54 20.78 0.72 5.56 0.53 17.58 0.47 0 0.63 50.99 0.86 0.22 0.71 7.2 0.95 0.75 0.62 74.89 0.56 2.4 0.73 2.11 0.53 7.26 0.7 17.88 0.36 4.18 0.83 16.09 0.37 26.19" transform="rotate(-90)"/>
<circle r="167.7" fill="none" stroke="#c0eca0" stroke-width="14" pathLength="360" stroke-dasharray="0 28.42 0.75 128.98 0.93 55.32 0.69 73.75 0.8 16.44 0.88 49.41 0.57 3.06" transform="rotate(-90)"/>
<circle r="167.7" fill="none" stroke="#3048b0" stroke-width="14" pathLength="360" stroke-dasharray="0 29.43 0.42 32.66 0.85 27.78 0.71 15.32 0.74 12.25 0.84 30.48 0.91 44.08 0.41 55.12 0.82 10.25 0.63 11.86 0.73 83.7" transform="rotate(-90)"/>
<circle r="167.7" fill="none" stroke="#8a4a22" stroke-width="14" pathLength="360" stroke-dasharray="0 31.23 0.65 25.71 0.66 45.05 0.73 6.88 0.79 29.26 0.57 57.76 0.63 58.98 0.94 17.3 0.69 47.75 0.68 20.95 0.81 0 0.68 11.31" transform="rotate(-90)"/>
<circle r="167.7" fill="none" stroke="#3a1a2a" stroke-width="14" pathLength="360" stroke-dasharray="0 37.36 0.89 13.68 0.73 26.44 0.83 9.39 0.68 15.2 0.44 1.14 0.39 1.32 0.62 2.85 0.74 44.07 0.45 2.05 0.66 13.55 0.87 48.52 0.65 7.12 0.68 11.95 0.87 29.2 0.81 5.13 0.51 5.43 0.37 6.92 0.86 2.17 0.66 7.96 0.94 5.84 0.38 13.06 0.62 7.98 0.45 26.56" transform="rotate(-90)"/>
<circle r="167.7" fill="none" stroke="#80b0f0" stroke-width="14" pathLength="360" stroke-dasharray="0 42.14 0.51 0 0.82 0.89 0.91 27.74 0.47 1.48 0.43 47.37 0.38 2.39 0.72 20.93 0.58 97.97 0.69 9.94 0.78 6.85 0.64 38.59 0.77 5.73 0.41 12.06 0.69 8.93 0.46 18.52 0.76 8.46" transform="rotate(-90)"/>
<circle r="167.7" fill="none" stroke="#30a0a0" stroke-width="14" pathLength="360" stroke-dasharray="0 45.26 0.85 22.88 0.77 44.41 0.54 19.27 0.71 13.81 0.75 7.96 0.42 22.81 0.42 46.96 0.43 26.42 0.55 28.26 0.71 9.89 0.84 56.6 0.77 2.8 0.55 4.35" transform="rotate(-90)"/>
<circle r="167.7" fill="none" stroke="#a0a040" stroke-width="14" pathLength="360" stroke-dasharray="0 46.73 0.5 32.95 0.71 40.99 0.52 51.98 0.73 92.56 0.37 51.14 0.86 17.18 0.91 21.89" transform="rotate(-90)"/>
<circle r="167.7" fill="none" stroke="#f08a2a" stroke-width="14" pathLength="360" stroke-dasharray="0 58.54 0.5 6.81 0.87 3.99 0.39 3.13 0.71 3 0.42 2.87 0.91 0.66 0.79 18.8 0.89 2.6 0.89 2.34 0.73 5.59 0.58 8.86 0.64 35.84 0.91 14.51 0.76 4.79 0.48 78.47 0.52 65.49 0.87 11.73 0.53 19.58" transform="rotate(-90)"/>
<circle r="167.7" fill="none" stroke="#f2a0c0" stroke-width="14" pathLength="360" stroke-dasharray="0 63.36 0.7 7.04 0.65 5.47 0.73 50.36 0.49 4.2 0.74 34.64 0.89 77.35 0.63 1.56 0.53 10.47 0.48 30.15 0.76 6.98 0.6 35.2 0.37 0.4 0.94 24.29" transform="rotate(-90)"/>
<circle r="149.05" fill="none" stroke="#606060" stroke-width="15.3" pathLength="360" stroke-dasharray="0 1.55 0.87 48.4 0.89 17.73 0.82 4.28 0.91 12.61 1 1.37 0.4 1.05 0.7 15.42 0.74 3.35 0.87 31.69 0.45 12.6 0.75 27.52 0.46 38.61 0.69 21.18 0.77 8.67 0.82 47.78 0.64 2.84 0.73 0 0.86 36.96 0.76 1.05 0.87 10.33" transform="rotate(-90)"/>
<circle r="149.05" fill="none" stroke="#111111" stroke-width="15.3" pathLength="360" stroke-dasharray="0 2.43 0.51 1.69 1.02 0.66 0.57 1.4 0.45 0 0.72 1.04 0.75 0.5 0.55 12.52 0.65 13.1 0.45 2.42 0.96 1.37 0.61 0 1.04 0.37 0.44 2.13 0.66 1.3 0.52 5.53 0.65 1.53 0.54 0 0.63 5.54 0.51 3.28 0.42 12.22 0.73 2.91 0.7 15.14 0.63 1.51 0.85 0.67 0.96 1.02 0.93 1.77 0.76 0.36 0.55 1.86 0.99 0 0.97 2.86 0.42 2.99 0.61 2.43 0.68 6.45 0.77 5.34 0.91 0 1.05 2.18 0.84 3.16 0.46 3.37 0.69 1.02 0.56 2.03 0.53 5.06 0.67 4.52 0.58 3.84 0.5 1.35 0.94 10.32 0.95 0 0.95 0.98 1.03 2.24 0.66 2.69 0.84 0.32 0.57 1.08 0.94 1.75 0.49 5.99 0.67 2.91 0.67 2.56 0.93 6.21 0.42 13.01 1.01 1.72 0.9 2 0.84 3.98 0.48 6.31 0.72 0.48 0.57 1.82 0.45 13.4 1.01 0.31 0.44 2.76 0.81 2.18 0.61 6.1 0.87 2.45 0.92 0.88 0.42 6.76 0.9 9.35 0.72 0.25 0.61 2.01 0.53 0 0.78 0.45 0.46 1.88 0.8 0.74 0.68 3.42 0.88 6.49 0.41 0.56 1.05 0 0.88 0.27 0.51 4.09 0.47 6.85 0.41 0.28 1.01 0.36 1.07 1.07 0.47 0 1.01 0.58 0.85 2.49 1.05 1.64 0.85 8.71" transform="rotate(-90)"/>
<circle r="149.05" fill="none" stroke="#c0eca0" stroke-width="15.3" pathLength="360" stroke-dasharray="0 2.94 0.67 233.78 0.46 82.88 0.45 38.83" transform="rotate(-90)"/>
<circle r="149.05" fill="none" stroke="#4a2a7a" stroke-width="15.3" pathLength="360" stroke-dasharray="0 3.6 0.72 14.52 1.03 16.96 0.7 3.01 0.88 31.16 0.93 41.43 0.7 20.44 0.41 11.87 0.47 16.31 0.99 5.87 1.07 0 1.06 19.17 0.41 7.04 1.02 36.97 0.44 0.6 0.43 3.23 0.62 3.63 0.45 4.37 0.54 10.06 0.61 22.97 0.65 1.18 0.95 8.02 0.95 19.28 0.51 2.93 0.93 6.51 0.8 5.18 0.84 24.56" transform="rotate(-90)"/>
<circle r="149.05" fill="none" stroke="#f08a2a" stroke-width="15.3" pathLength="360" stroke-dasharray="0 6.88 0.61 91.55 0.82 18.37 0.93 7.94 1.02 2.19 1.07 2.57 0.81 26.72 1.03 154.25 0.94 15.04 1.01 15.89 0.52 3.71 0.95 0 0.5 4.65" transform="rotate(-90)"/>
<circle r="149.05" fill="none" stroke="#8a4a22" stroke-width="15.3" pathLength="360" stroke-dasharray="0 7.49 0.79 54.65 0.73 20.87 0.78 7.31 0.94 0 0.63 1.56 0.62 43.88 0.76 37.93 0.42 9.55 0.72 40.25 1.06 22.46 0.93 3.09 0.53 56.72 1.03 44.31" transform="rotate(-90)"/>
<circle r="149.05" fill="none" stroke="#e8d840" stroke-width="15.3" pathLength="360" stroke-dasharray="0 11.25 0.5 18.5 0.99 33.44 0.56 6.85 0.5 23.76 1.06 6.73 0.67 20.13 0.57 3.65 0.68 59.78 1.02 3.09 0.67 13.42 0.7 8.25 0.48 5.07 0.51 9.11 0.88 27.43 0.58 23.23 0.88 75.07" transform="rotate(-90)"/>
<circle r="149.05" fill="none" stroke="#e02828" stroke-width="15.3" pathLength="360" stroke-dasharray="0 13.96 0.67 9.02 0.62 46.89 0.92 44.95 0.78 15.48 0.68 43.55 0.51 17.29 0.53 26.98 0.55 15.82 0.6 24.16 0.84 30.85 1.02 7.29 0.73 36.89 0.79 17.65" transform="rotate(-90)"/>
<circle r="149.05" fill="none" stroke="#e04080" stroke-width="15.3" pathLength="360" stroke-dasharray="0 16.08 0.79 26.05 0.84 9.59 0.99 1.02 0.98 4.24 0.81 33.05 1.01 58.84 0.71 11.93 0.84 0 0.64 1.06 1 25.95 0.63 0.49 0.76 34.49 0.84 4.44 0.66 50.72 0.47 70.05" transform="rotate(-90)"/>
<circle r="149.05" fill="none" stroke="#f2a0c0" stroke-width="15.3" pathLength="360" stroke-dasharray="0 17.15 0.73 2 0.63 65.5 0.95 0 0.85 32.73 0.68 4.95 0.93 92.41 0.47 67.71 0.83 18.72 0.45 3.14 0.49 48.67" transform="rotate(-90)"/>
<circle r="149.05" fill="none" stroke="#90c840" stroke-width="15.3" pathLength="360" stroke-dasharray="0 18.09 0.75 12.39 0.95 47.13 0.72 0.71 0.68 24.62 0.74 4.36 0.99 93.26 1.06 20.37 0.53 13.6 0.41 37.41 1.03 10.14 0.75 31.4 0.95 22.68 1.02 11.28 0.99 0.98" transform="rotate(-90)"/>
<circle r="149.05" fill="none" stroke="#2a6a2a" stroke-width="15.3" pathLength="360" stroke-dasharray="0 22.11 0.79 16.11 1.03 14.84 0.49 10.38 1.06 52.66 0.77 2.82 0.92 5.85 0.49 49.25 0.85 35.41 0.92 25.58 0.81 30.99 0.87 23.95 0.88 13.5 0.81 45.85" transform="rotate(-90)"/>
<circle r="149.05" fill="none" stroke="#8a70d0" stroke-width="15.3" pathLength="360" stroke-dasharray="0 25.47 0.64 6.83 0.91 0.34 0.76 24.75 0.89 7.4 1.03 28.38 0.52 77.71 0.64 4.48 0.69 18.38 0.72 13.43 1.03 2.92 0.88 27.21 0.94 11.35 0.77 2.75 1.02 22.89 0.74 73.54" transform="rotate(-90)"/>
<circle r="149.05" fill="none" stroke="#3048b0" stroke-width="15.3" pathLength="360" stroke-dasharray="0 27.43 1.04 0 0.7 5.78 0.6 28.11 1.01 35.19 0.99 51.67 1.04 54.94 0.89 91.47 0.73 21.88 0.56 11.68 0.64 23.65" transform="rotate(-90)"/>
<circle r="149.05" fill="none" stroke="#b0a0e0" stroke-width="15.3" pathLength="360" stroke-dasharray="0 35.79 0.83 52.46 1.03 65.73 0.82 21.67 0.59 41.07 0.53 21.33 0.5 8.52 0.6 7.87 0.65 41.61 0.77 54.46 0.97 2.22" transform="rotate(-90)"/>
<circle r="149.05" fill="none" stroke="#80b0f0" stroke-width="15.3" pathLength="360" stroke-dasharray="0 46.86 0.72 0.24 0.53 98.73 0.98 39.05 0.84 32.56 0.72 23.97 0.8 18.79 0.81 28.78 0.91 23.29 0.42 33.14 0.97 6.9" transform="rotate(-90)"/>
<circle r="149.05" fill="none" stroke="#a0a040" stroke-width="15.3" pathLength="360" stroke-dasharray="0 49.24 1.06 27.25 0.92 4.46 0.98 59.87 0.91 58.05 0.54 3.17 0.68 7.87 0.62 57.07 0.4 86.9" transform="rotate(-90)"/>
<circle r="149.05" fill="none" stroke="#202060" stroke-width="15.3" pathLength="360" stroke-dasharray="0 57.64 0.89 2.87 0.83 14.65 0.46 24.69 1 12.95 1.06 25.68 0.86 14.91 0.89 9.06 0.56 50.04 0.5 1.71 0.8 3.73 1.06 50.17 1.05 12.67 0.59 35.45 0.81 28.1 0.83 3.51" transform="rotate(-90)"/>
<circle r="149.05" fill="none" stroke="#3a1a2a" stroke-width="15.3" pathLength="360" stroke-dasharray="0 78.46 0.85 3.08 0.53 0.98 0.62 6.64 0.45 30.54 0.89 86.33 0.77 1.13 0.87 11.21 0.97 50.66 1.02 15.26 0.82 1.19 1.07 2.28 0.84 21.5 0.99 40.02" transform="rotate(-90)"/>
<circle r="149.05" fill="none" stroke="#30a0a0" stroke-width="15.3" pathLength="360" stroke-dasharray="0 155.02 0.82 30.62 0.65 25.47 0.81 47.43 0.77 19.08 0.89 0 0.7 77.73" transform="rotate(-90)"/>
<path d="M-63.84 -123.7A139.2 139.2 0 0 1 -61.68 -124.79L-55.52 -112.33A125.3 125.3 0 0 0 -57.47 -111.34Z" fill="#e05070"/>
<path d="M-100.3 -96.52A139.2 139.2 0 0 1 -93.68 -102.96L-84.33 -92.68A125.3 125.3 0 0 0 -90.29 -86.88Z" fill="#7cc03c"/>
<path d="M-136.91 -25.13A139.2 139.2 0 0 1 -136.55 -27.04L-122.91 -24.34A125.3 125.3 0 0 0 -123.24 -22.62Z" fill="#222222"/>
<path d="M-138.75 -11.16A139.2 139.2 0 0 1 -138.39 -15.03L-124.57 -13.53A125.3 125.3 0 0 0 -124.9 -10.05Z" fill="#f070a0"/>
<path d="M-138.28 -16A139.2 139.2 0 0 1 -137.98 -18.41L-124.2 -16.57A125.3 125.3 0 0 0 -124.47 -14.4Z" fill="#e0103a"/>
<path d="M-137.85 -19.37A139.2 139.2 0 0 1 -137.52 -21.54L-123.79 -19.39A125.3 125.3 0 0 0 -124.08 -17.44Z" fill="#f090b0"/>
<path d="M-139.17 2.67A139.2 139.2 0 0 1 -138.98 -7.77L-125.1 -6.99A125.3 125.3 0 0 0 -125.28 2.41Z" fill="#e8103a"/>
<path d="M-139.05 6.56A139.2 139.2 0 0 1 -139.12 4.86L-125.22 4.37A125.3 125.3 0 0 0 -125.16 5.9Z" fill="#222222"/>
<path d="M-138.67 12.13A139.2 139.2 0 0 1 -138.88 9.47L-125.01 8.52A125.3 125.3 0 0 0 -124.82 10.92Z" fill="#f080a8"/>
<path d="M-133.67 38.84A139.2 139.2 0 0 1 -134.2 36.97L-120.8 33.27A125.3 125.3 0 0 0 -120.32 34.96Z" fill="#333333"/>
<path d="M0 139.2A139.2 139.2 0 0 1 -5.83 139.08L-5.25 125.19A125.3 125.3 0 0 0 0 125.3Z" fill="#2a70c4"/>
<path d="M-2.64 126.07L-2.9 138.37" stroke="#8cbcec" stroke-width="1.57"/>
<path d="M71.28 119.57A139.2 139.2 0 0 1 69.6 120.55L62.65 108.51A125.3 125.3 0 0 0 64.16 107.63Z" fill="#e41030"/>
<path d="M81.03 113.18A139.2 139.2 0 0 1 79.44 114.3L71.51 102.89A125.3 125.3 0 0 0 72.94 101.88Z" fill="#e41030"/>
<path d="M68.97 -120.91A139.2 139.2 0 0 1 70.65 -119.94L63.59 -107.96A125.3 125.3 0 0 0 62.08 -108.84Z" fill="#e41030"/>
<path d="M96.35 -100.47A139.2 139.2 0 0 1 97.74 -99.11L87.98 -89.22A125.3 125.3 0 0 0 86.73 -90.44Z" fill="#e41030"/>
<path d="M104.74 -91.69A139.2 139.2 0 0 1 110.88 -84.16L99.81 -75.76A125.3 125.3 0 0 0 94.28 -82.53Z" fill="#7cc03c"/>
<path d="M137.52 -21.54A139.2 139.2 0 0 1 137.81 -19.61L124.05 -17.65A125.3 125.3 0 0 0 123.79 -19.39Z" fill="#3a8ad4"/>
<path d="M0 -116L2.92 -120.07L5.7 -116.93L8.6 -117.52L11.31 -115.75L14.18 -115.91L17.13 -116.37L19.84 -115.25L22.72 -115.16L25.48 -114.38L28.04 -112.87L31.16 -113.53L33.59 -111.65L37.09 -113.21L39.17 -110.39L42.29 -110.56L44.8 -109.09L47.86 -108.92L49.98 -106.62L53.29 -106.83L55.48 -104.76L58.7 -104.59L61 -102.75L63.31 -100.95L65.32 -98.74L68.52 -98.28L70.73 -96.36L73.67 -95.41L74.78 -92.12L77.48 -90.83L79.56 -88.79L81.47 -86.58L83.4 -84.42L85.31 -82.25L86.67 -79.58L88.2 -77.11L90.4 -75.23L92.83 -73.5L95.2 -71.68L96.49 -69.03L98.19 -66.69L99.57 -64.15L101.06 -61.67L102.15 -58.98L104.05 -56.74L106.23 -54.62L105.85 -51.2L106.78 -48.48L110.13 -46.8L109.79 -43.53L111.4 -41.06L112.24 -38.29L111.35 -34.98L115.18 -33.13L115.29 -30.14L114.49 -26.97L115.51 -24.26L115.41 -21.32L114.89 -18.34L115.89 -15.62L116.58 -12.83L117.44 -10.03L117.22 -7.15L116.71 -4.27L117.9 -1.44L116.29 1.42L117.27 4.29L117.4 7.16L115.93 9.91L115.6 12.72L115.26 15.53L115.42 18.42L115.23 21.28L115.63 24.28L113.2 26.67L113.1 29.57L112.99 32.5L111.58 35.06L110.07 37.55L110.8 40.84L111.17 44.08L109.13 46.37L106.53 48.37L105.88 51.21L105.24 54.11L105.8 57.7L103.01 59.47L101.22 61.77L100.83 64.96L98.02 66.58L97.79 69.97L94.2 70.92L92.54 73.27L91.47 76.12L89.97 78.66L87.41 80.26L85.08 82.03L81.73 82.74L80.12 85.16L77.98 87.03L75.79 88.84L74.16 91.35L71.34 92.39L69.63 94.86L66.91 95.97L64.34 97.25L62.18 99.15L59.91 100.9L57.65 102.72L54.6 103.09L52.2 104.65L49.36 105.3L47.76 108.7L45.07 109.75L41.87 109.48L39.11 110.23L36.21 110.52L33.86 112.54L31.11 113.32L28.75 115.71L25.53 114.61L22.54 114.22L19.73 114.61L17.21 116.96L14.22 116.17L11.31 115.75L8.53 116.59L5.66 116.16L2.92 119.75L0 116A116 116 0 0 0 0 -116Z" fill="#3a2a9a"/>
<path d="M0 116L-2.75 112.89L-5.52 113.31L-8.33 113.84L-11.25 115.15L-13.84 113.11L-16.79 114.07L-19.18 111.41L-22.4 113.49L-24.86 111.6L-27.03 108.78L-29.52 107.56L-32.91 109.38L-35.63 108.75L-37.41 105.45L-39.93 104.39L-43.1 104.96L-45.47 103.48L-47.92 102.22L-50.56 101.35L-52.72 99.54L-54.14 96.47L-56.72 95.54L-58.28 92.94L-61.71 93.27L-64 91.8L-66.75 90.94L-68.47 88.68L-71.44 88L-73.96 86.7L-74.51 83.16L-76.13 80.91L-78.64 79.6L-80.34 77.46L-83.14 76.34L-85.83 75.04L-87.14 72.52L-89.34 70.74L-91.7 69.04L-93.87 67.16L-95.33 64.75L-95.63 61.61L-96.93 59.15L-98.82 57.05L-98.43 53.67L-100.72 51.78L-101.48 49.09L-101.96 46.29L-104.84 44.55L-106.87 42.37L-105.25 38.79L-107.48 36.67L-106.41 33.43L-108.14 31.1L-108.25 28.3L-109.2 25.72L-112.66 23.66L-110.55 20.42L-112.11 17.9L-112.14 15.11L-111.7 12.29L-110.31 9.42L-110.34 6.73L-111.03 4.06L-114.43 1.39L-113.66 -1.38L-115.27 -4.21L-112.2 -6.84L-110.63 -9.45L-111.31 -12.25L-110.67 -14.91L-110.96 -17.71L-110.4 -20.39L-112.32 -23.59L-111.75 -26.33L-110.98 -29.01L-107.78 -31L-107.58 -33.8L-107.83 -36.79L-106.52 -39.26L-105.58 -41.86L-104.39 -44.36L-103.59 -47.03L-102.45 -49.56L-101.96 -52.42L-100.04 -54.56L-96.63 -55.79L-96.12 -58.66L-95 -61.2L-93.66 -63.62L-91.81 -65.69L-89.92 -67.7L-89.01 -70.48L-86.61 -72.08L-84.8 -74.14L-83.72 -76.87L-81.87 -78.93L-80.1 -81.08L-78.17 -83.08L-74.85 -83.54L-74.92 -87.83L-71.46 -88.02L-69.51 -90.01L-67.29 -91.67L-64.61 -92.67L-61.73 -93.31L-59.96 -95.61L-57.67 -97.14L-55.47 -98.83L-52.76 -99.61L-49.8 -99.83L-47.85 -102.08L-45.61 -103.8L-43.08 -104.9L-40.43 -105.7L-37.92 -106.88L-34.53 -105.4L-32.18 -106.95L-29.73 -108.33L-26.7 -107.46L-24.56 -110.27L-21.63 -109.6L-18.97 -110.22L-16.65 -113.16L-13.92 -113.74L-11.1 -113.61L-8.21 -112.21L-5.47 -112.16L-2.8 -114.94L0 -116A116 116 0 0 0 0 116Z" fill="#f08a28"/>
<path d="M0 -116A116 116 0 0 1 0 116" fill="none" stroke="#3a2a9a" stroke-width="2.45"/>
<path d="M0 116A116 116 0 0 1 0 -116" fill="none" stroke="#f08a28" stroke-width="2.45"/>
<path d="M0 -98.5L0 -101.84L2.83 -99.21L5.65 -98.81L8.43 -98.19L11.25 -98.05L11.45 -97.83A98.5 98.5 0 0 0 0 -98.5ZM20.85 -96.27L22.66 -97.42L26.12 -99.36L29.29 -99.74L30.67 -94.4L31.44 -93.35A98.5 98.5 0 0 0 20.85 -96.27ZM34.54 -92.24L36.11 -92.76L38.48 -91.05L43.05 -94.27L44.75 -91.03L46.36 -87.87L50.13 -88.77L52.25 -86.65L52.64 -83.25A98.5 98.5 0 0 0 34.54 -92.24ZM54.67 -81.93L55.94 -81.82L58.4 -80.39L60.79 -78.83L63 -77.04L64.56 -74.5L67.13 -73.14L67.8 -71.45A98.5 98.5 0 0 0 54.67 -81.93ZM71.19 -68.07L74.61 -68.47L75.18 -65.14L77.19 -63.11L76.94 -61.51A98.5 98.5 0 0 0 71.19 -68.07ZM79.32 -58.4L80.12 -58.21L83.2 -56.89L82.42 -53.93A98.5 98.5 0 0 0 79.32 -58.4ZM83.21 -52.7L86.97 -52.44L86.47 -48.83L89.03 -46.98L89.61 -44.06L91.36 -41.72L93.94 -39.7L92.59 -36.05L96.46 -34.42L93.74 -30.46L93.82 -29.99A98.5 98.5 0 0 0 83.21 -52.7ZM94.6 -27.43L97.41 -25.6L95.78 -22.99A98.5 98.5 0 0 0 94.6 -27.43ZM96.38 -20.32L96.81 -19.62L99.27 -17.18L100.14 -14.4L97.71 -12.47A98.5 98.5 0 0 0 96.38 -20.32ZM98.03 -9.57L99.61 -8.56L102 -5.83L101.01 -2.89L98.74 0L98.49 1.12A98.5 98.5 0 0 0 98.03 -9.57ZM98.37 5.07L98.43 5.63L98.33 5.8A98.5 98.5 0 0 0 98.37 5.07ZM97.87 11.13L97.91 11.23L97.55 14.03L97.11 16.8L98.5 19.96L96.04 21.86A98.5 98.5 0 0 0 97.87 11.13ZM94.79 26.77L95.87 28.15L94.18 28.85A98.5 98.5 0 0 0 94.79 26.77ZM88.14 43.97L89.92 47.44L86.15 47.76A98.5 98.5 0 0 0 88.14 43.97ZM84.11 51.26L84.35 54.21L82.34 56.3L80.77 58.68L79.22 61.08L77.42 60.9A98.5 98.5 0 0 0 84.11 51.26ZM72.88 66.26L72.75 66.77L71.16 69.16L69.95 71.98L66.88 72.87L65.95 73.16A98.5 98.5 0 0 0 72.88 66.26ZM55.98 81.05L55.65 81.39L55.46 81.4A98.5 98.5 0 0 0 55.98 81.05ZM46.65 86.75L46.38 87.9L44.03 89.55L41.32 90.47L38.69 91.55L37.36 91.14A98.5 98.5 0 0 0 46.65 86.75ZM20.85 96.27L19.77 97.59L18.21 96.8A98.5 98.5 0 0 0 20.85 96.27ZM12.04 97.76L11.25 98.05L8.56 99.71L7.19 98.24A98.5 98.5 0 0 0 12.04 97.76ZM0.39 98.5L0 98.87L-0.34 98.5A98.5 98.5 0 0 0 0.39 98.5ZM-16.45 97.12L-16.89 97.57L-17.61 96.91A98.5 98.5 0 0 0 -16.45 97.12ZM-23.26 95.71L-25.86 98.38L-28.09 95.66L-32.23 99.2L-33.42 93.67L-35.29 91.96A98.5 98.5 0 0 0 -23.26 95.71ZM-36.42 91.52L-38.56 91.25L-42.14 92.28L-43.59 88.65L-46.42 87.98L-48.92 86.63L-49.46 85.18A98.5 98.5 0 0 0 -36.42 91.52ZM-52.97 83.05L-53.35 83.02L-53.66 82.6A98.5 98.5 0 0 0 -52.97 83.05ZM-59.34 78.62L-60.89 78.96L-62.91 76.94L-64.54 74.48L-64.57 74.38A98.5 98.5 0 0 0 -59.34 78.62ZM-70.24 69.06L-71.23 69.23L-72.61 66.64L-72.61 66.56A98.5 98.5 0 0 0 -70.24 69.06ZM-76.14 62.49L-76.39 62.46L-76.39 62.19A98.5 98.5 0 0 0 -76.14 62.49ZM-79.51 58.14L-79.9 58.05L-81.72 55.88L-83.51 53.67L-84.74 51.1L-86 48.57L-85.93 48.15A98.5 98.5 0 0 0 -79.51 58.14ZM-91.95 35.32L-93.21 33.26L-95.7 31.1L-93.95 29.58A98.5 98.5 0 0 0 -91.95 35.32ZM-95.21 25.26L-95.64 25.14L-95.62 23.66A98.5 98.5 0 0 0 -95.21 25.26ZM-96 22.06L-100.26 20.32L-98.92 17.12L-97.28 15.45A98.5 98.5 0 0 0 -96 22.06ZM-97.4 -14.7L-99.53 -17.23L-96.83 -18.08A98.5 98.5 0 0 0 -97.4 -14.7ZM-94.78 -26.81L-95.82 -28.13L-93.85 -30.49L-93.25 -33.27L-94.5 -36.79L-91 -37.7A98.5 98.5 0 0 0 -94.78 -26.81ZM-89.78 -40.53L-89.75 -40.99L-89.49 -41.15A98.5 98.5 0 0 0 -89.78 -40.53ZM-87.39 -45.44L-87.53 -46.18L-86.35 -48.76L-84.82 -51.15L-83.85 -53.89L-85.68 -58.59L-81.46 -59.18L-79.84 -61.57L-80.87 -66.13L-76.12 -65.96L-72.99 -66.14A98.5 98.5 0 0 0 -87.39 -45.44ZM-72.19 -67.02L-72.47 -70.43L-68.76 -70.75L-69.32 -75.53L-64.87 -74.12A98.5 98.5 0 0 0 -72.19 -67.02ZM-62.47 -76.15L-62.38 -76.29L-62.29 -76.3A98.5 98.5 0 0 0 -62.47 -76.15ZM-58.6 -79.17L-58.37 -80.34L-56.89 -80.41A98.5 98.5 0 0 0 -58.6 -79.17ZM-54.05 -82.35L-53.53 -83.3L-50.92 -84.44L-49.72 -85.03A98.5 98.5 0 0 0 -54.05 -82.35ZM-48.33 -85.83L-47.16 -89.39L-44.69 -90.9L-41.6 -91.09L-38.48 -91.06L-35.85 -92.09L-34 -95.29L-32.37 -99.61L-28.26 -96.23L-25.38 -96.54L-22.64 -97.36L-19.71 -97.28L-16.94 -97.89L-14.29 -99.39L-11.72 -102.19L-8.59 -100L-5.67 -99.19L-4.4 -98.4A98.5 98.5 0 0 0 -48.33 -85.83ZM-2.11 -98.48L0 -101.84L0 -98.5A98.5 98.5 0 0 0 -2.11 -98.48Z" fill="#3a2a9a"/>
<path d="M11.45 -97.83L13.69 -95.23L16.62 -96.06L19.29 -95.22L20.85 -96.27A98.5 98.5 0 0 0 11.45 -97.83ZM31.44 -93.35L32.68 -91.59L34.54 -92.24A98.5 98.5 0 0 0 31.44 -93.35ZM52.64 -83.25L52.75 -82.08L54.67 -81.93A98.5 98.5 0 0 0 52.64 -83.25ZM67.8 -71.45L68.26 -70.24L69.85 -67.88L71.19 -68.07A98.5 98.5 0 0 0 67.8 -71.45ZM76.94 -61.51L76.49 -58.98L79.32 -58.4A98.5 98.5 0 0 0 76.94 -61.51ZM82.42 -53.93L82.09 -52.76L83.21 -52.7A98.5 98.5 0 0 0 82.42 -53.93ZM93.82 -29.99L94.23 -27.67L94.6 -27.43A98.5 98.5 0 0 0 93.82 -29.99ZM95.78 -22.99L95.22 -22.14L96.38 -20.32A98.5 98.5 0 0 0 95.78 -22.99ZM97.71 -12.47L95.72 -10.98L98.03 -9.57A98.5 98.5 0 0 0 97.71 -12.47ZM98.49 1.12L98.1 2.8L98.37 5.07A98.5 98.5 0 0 0 98.49 1.12ZM98.33 5.8L96.81 8.31L97.87 11.13A98.5 98.5 0 0 0 98.33 5.8ZM96.04 21.86L95.56 22.22L92.87 24.41L94.79 26.77A98.5 98.5 0 0 0 96.04 21.86ZM94.18 28.85L91.71 29.8L91.69 32.72L91.15 35.49L89.78 37.94L87.72 40.06L87.67 43.11L88.14 43.97A98.5 98.5 0 0 0 94.18 28.85ZM86.15 47.76L84.72 47.84L84.05 50.68L84.11 51.26A98.5 98.5 0 0 0 86.15 47.76ZM77.42 60.9L73.93 60.46L73.48 63.67L72.88 66.26A98.5 98.5 0 0 0 77.42 60.9ZM65.95 73.16L63.92 73.77L61.98 75.79L59.46 77.11L57.6 79.28L55.98 81.05A98.5 98.5 0 0 0 65.95 73.16ZM55.46 81.4L52.41 81.55L49.67 82.37L47.29 83.74L46.65 86.75A98.5 98.5 0 0 0 55.46 81.4ZM37.36 91.14L35.2 90.42L32.24 90.36L30.25 93.11L27.26 92.85L24.95 94.93L22.04 94.76L20.85 96.27A98.5 98.5 0 0 0 37.36 91.14ZM18.21 96.8L16.61 95.96L13.95 97.02L12.04 97.76A98.5 98.5 0 0 0 18.21 96.8ZM7.19 98.24L5.51 96.35L2.75 96.12L0.39 98.5A98.5 98.5 0 0 0 7.19 98.24ZM-0.34 98.5L-2.73 95.71L-5.61 98.07L-8.27 96.27L-11.11 96.81L-13.49 93.86L-16.45 97.12A98.5 98.5 0 0 0 -0.34 98.5ZM-17.61 96.91L-19.31 95.31L-21.92 94.27L-23.26 95.71A98.5 98.5 0 0 0 -17.61 96.91ZM-35.29 91.96L-35.67 91.61L-36.42 91.52A98.5 98.5 0 0 0 -35.29 91.96ZM-49.46 85.18L-50.15 83.17L-52.97 83.05A98.5 98.5 0 0 0 -49.46 85.18ZM-53.66 82.6L-55.09 80.57L-56.64 77.95L-59.34 78.62A98.5 98.5 0 0 0 -53.66 82.6ZM-64.57 74.38L-65.55 71.42L-66.39 68.31L-70.24 69.06A98.5 98.5 0 0 0 -64.57 74.38ZM-72.61 66.56L-72.56 62.88L-76.14 62.49A98.5 98.5 0 0 0 -72.61 66.56ZM-76.39 62.19L-76.31 58.85L-79.51 58.14A98.5 98.5 0 0 0 -76.39 62.19ZM-85.93 48.15L-85.38 45.05L-87.61 43.07L-88.51 40.42L-89.95 38.01L-91.71 35.7L-91.95 35.32A98.5 98.5 0 0 0 -85.93 48.15ZM-93.95 29.58L-90.19 26.48L-95.21 25.26A98.5 98.5 0 0 0 -93.95 29.58ZM-95.62 23.66L-95.57 22.22L-96 22.06A98.5 98.5 0 0 0 -95.62 23.66ZM-97.28 15.45L-95.52 13.73L-96.95 11.12L-93.97 8.07L-90.9 5.2L-93.19 2.66L-96.5 0L-98.11 -2.8L-93.79 -5.36L-89.4 -7.68L-92.86 -10.66L-96.69 -13.9L-97.4 -14.7A98.5 98.5 0 0 0 -97.28 15.45ZM-96.83 -18.08L-93.69 -18.98L-90.27 -20.99L-92.8 -24.39L-94.78 -26.81A98.5 98.5 0 0 0 -96.83 -18.08ZM-91 -37.7L-89.85 -37.97L-89.78 -40.53A98.5 98.5 0 0 0 -91 -37.7ZM-89.49 -41.15L-86.84 -42.7L-87.39 -45.44A98.5 98.5 0 0 0 -89.49 -41.15ZM-72.99 -66.14L-72.1 -66.17L-72.19 -67.02A98.5 98.5 0 0 0 -72.99 -66.14ZM-64.87 -74.12L-63.95 -73.81L-62.47 -76.15A98.5 98.5 0 0 0 -64.87 -74.12ZM-62.29 -76.3L-59.05 -76.57L-58.6 -79.17A98.5 98.5 0 0 0 -62.29 -76.3ZM-56.89 -80.41L-55.02 -80.47L-54.05 -82.35A98.5 98.5 0 0 0 -56.89 -80.41ZM-49.72 -85.03L-48.38 -85.66L-48.33 -85.83A98.5 98.5 0 0 0 -49.72 -85.03ZM-4.4 -98.4L-2.78 -97.36L-2.11 -98.48A98.5 98.5 0 0 0 -4.4 -98.4Z" fill="#f08a28"/>
<path d="M0 -98.5A98.5 98.5 0 0 1 12.62 -97.69M20.94 -96.25A98.5 98.5 0 0 1 31.77 -93.23M34.42 -92.29A98.5 98.5 0 0 1 52.06 -83.62M54.43 -82.09A98.5 98.5 0 0 1 67.63 -71.61M71.61 -67.63A98.5 98.5 0 0 1 77.14 -61.26M78.85 -59.03A98.5 98.5 0 0 1 82.09 -54.43M83.62 -52.06A98.5 98.5 0 0 1 94.1 -29.1M94.9 -26.4A98.5 98.5 0 0 1 95.61 -23.68M96.25 -20.94A98.5 98.5 0 0 1 97.69 -12.62M98.01 -9.83A98.5 98.5 0 0 1 98.49 1.41M98.41 4.22A98.5 98.5 0 0 1 98.25 7.03M98.01 9.83A98.5 98.5 0 0 1 96.25 20.94M94.9 26.4A98.5 98.5 0 0 1 94.1 29.1M87.76 44.72A98.5 98.5 0 0 1 86.45 47.21M83.62 52.06A98.5 98.5 0 0 1 77.14 61.26M73.51 65.56A98.5 98.5 0 0 1 65.56 73.51M56.75 80.51A98.5 98.5 0 0 1 54.43 82.09M47.21 86.45A98.5 98.5 0 0 1 37.04 91.27M20.94 96.25A98.5 98.5 0 0 1 18.18 96.81M12.62 97.69A98.5 98.5 0 0 1 7.03 98.25M1.41 98.49A98.5 98.5 0 0 1 -1.41 98.49M-15.41 97.29A98.5 98.5 0 0 1 -18.18 96.81M-23.68 95.61A98.5 98.5 0 0 1 -34.42 92.29M-37.04 91.27A98.5 98.5 0 0 1 -49.66 85.07M-52.06 83.62A98.5 98.5 0 0 1 -54.43 82.09M-59.03 78.85A98.5 98.5 0 0 1 -65.56 73.51M-69.65 69.65A98.5 98.5 0 0 1 -73.51 65.56M-75.35 63.43A98.5 98.5 0 0 1 -77.14 61.26M-78.85 59.03A98.5 98.5 0 0 1 -86.45 47.21M-92.29 34.42A98.5 98.5 0 0 1 -94.1 29.1M-94.9 26.4A98.5 98.5 0 0 1 -95.61 23.68M-96.25 20.94A98.5 98.5 0 0 1 -97.29 15.41M-97.29 -15.41A98.5 98.5 0 0 1 -96.81 -18.18M-94.9 -26.4A98.5 98.5 0 0 1 -91.27 -37.04M-90.17 -39.63A98.5 98.5 0 0 1 -89.01 -42.19M-87.76 -44.72A98.5 98.5 0 0 1 -73.51 -65.56M-71.61 -67.63A98.5 98.5 0 0 1 -65.56 -73.51M-63.43 -75.35A98.5 98.5 0 0 1 -61.26 -77.14M-59.03 -78.85A98.5 98.5 0 0 1 -56.75 -80.51M-54.43 -82.09A98.5 98.5 0 0 1 -49.66 -85.07M-47.21 -86.45A98.5 98.5 0 0 1 -4.22 -98.41" fill="none" stroke="#3a2a9a" stroke-width="2.2"/>
<path d="M12.62 -97.69A98.5 98.5 0 0 1 20.94 -96.25M31.77 -93.23A98.5 98.5 0 0 1 34.42 -92.29M52.06 -83.62A98.5 98.5 0 0 1 54.43 -82.09M67.63 -71.61A98.5 98.5 0 0 1 71.61 -67.63M77.14 -61.26A98.5 98.5 0 0 1 78.85 -59.03M82.09 -54.43A98.5 98.5 0 0 1 83.62 -52.06M94.1 -29.1A98.5 98.5 0 0 1 94.9 -26.4M95.61 -23.68A98.5 98.5 0 0 1 96.25 -20.94M97.69 -12.62A98.5 98.5 0 0 1 98.01 -9.83M98.49 1.41A98.5 98.5 0 0 1 98.41 4.22M98.25 7.03A98.5 98.5 0 0 1 98.01 9.83M96.25 20.94A98.5 98.5 0 0 1 94.9 26.4M94.1 29.1A98.5 98.5 0 0 1 87.76 44.72M86.45 47.21A98.5 98.5 0 0 1 83.62 52.06M77.14 61.26A98.5 98.5 0 0 1 73.51 65.56M65.56 73.51A98.5 98.5 0 0 1 56.75 80.51M54.43 82.09A98.5 98.5 0 0 1 47.21 86.45M37.04 91.27A98.5 98.5 0 0 1 20.94 96.25M18.18 96.81A98.5 98.5 0 0 1 12.62 97.69M7.03 98.25A98.5 98.5 0 0 1 1.41 98.49M-1.41 98.49A98.5 98.5 0 0 1 -15.41 97.29M-18.18 96.81A98.5 98.5 0 0 1 -23.68 95.61M-34.42 92.29A98.5 98.5 0 0 1 -37.04 91.27M-49.66 85.07A98.5 98.5 0 0 1 -52.06 83.62M-54.43 82.09A98.5 98.5 0 0 1 -59.03 78.85M-65.56 73.51A98.5 98.5 0 0 1 -69.65 69.65M-73.51 65.56A98.5 98.5 0 0 1 -75.35 63.43M-77.14 61.26A98.5 98.5 0 0 1 -78.85 59.03M-86.45 47.21A98.5 98.5 0 0 1 -92.29 34.42M-94.1 29.1A98.5 98.5 0 0 1 -94.9 26.4M-95.61 23.68A98.5 98.5 0 0 1 -96.25 20.94M-97.29 15.41A98.5 98.5 0 0 1 -97.29 -15.41M-96.81 -18.18A98.5 98.5 0 0 1 -94.9 -26.4M-91.27 -37.04A98.5 98.5 0 0 1 -90.17 -39.63M-89.01 -42.19A98.5 98.5 0 0 1 -87.76 -44.72M-73.51 -65.56A98.5 98.5 0 0 1 -71.61 -67.63M-65.56 -73.51A98.5 98.5 0 0 1 -63.43 -75.35M-61.26 -77.14A98.5 98.5 0 0 1 -59.03 -78.85M-56.75 -80.51A98.5 98.5 0 0 1 -54.43 -82.09M-49.66 -85.07A98.5 98.5 0 0 1 -47.21 -86.45M-4.22 -98.41A98.5 98.5 0 0 1 -1.41 -98.49" fill="none" stroke="#f08a28" stroke-width="2.2"/>
<path d="M31.77 -64.28L37.57 -76.02" stroke="#e4387a" stroke-width="2.1"/>
<path d="M24.38 -47.85L30.51 -59.88" stroke="#58aae2" stroke-width="1.92"/>
<path d="M32.39 -42.83L40.54 -53.6" stroke="#58aae2" stroke-width="1.92"/>
<path d="M48.47 23.12L60.65 28.93" stroke="#58aae2" stroke-width="1.92"/>
<path d="M-35.86 39.97L-44.88 50.02" stroke="#58aae2" stroke-width="1.92"/>
<path d="M-22.54 63.31A67.2 67.2 0 0 1 -25.39 62.22L-20.29 49.72A53.7 53.7 0 0 0 -18.01 50.59Z" fill="#c4e2f6" stroke="#62ace2" stroke-width="1.4"/>
</g>
<text x="212.2" y="41" font-size="10.5" text-anchor="middle" font-weight="bold">1</text>
<text x="613.3" y="121.8" font-size="10" text-anchor="middle" font-weight="bold">1</text>
<text x="176" y="233.8" font-size="10.9" stroke="#111" stroke-width="0.3">Chromosome 1</text>
<text x="184" y="247.4" font-size="10.9" stroke="#111" stroke-width="0.3">3 288 558 bp</text>
<text x="576.4" y="237" font-size="10.9" stroke="#111" stroke-width="0.35">Chromosome 2</text>
<text x="584.8" y="250.3" font-size="10.9" stroke="#111" stroke-width="0.35">1 877 212 bp</text>
</svg></body></html>
